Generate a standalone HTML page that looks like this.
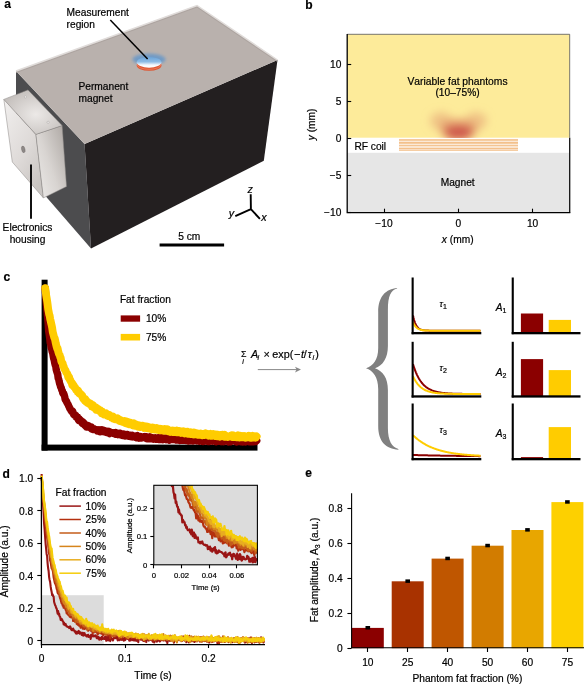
<!DOCTYPE html>
<html><head><meta charset="utf-8"><style>
html,body{margin:0;padding:0;background:#fff;}
svg{display:block;will-change:transform;}
text{font-kerning:none;font-feature-settings:"kern" 0;stroke:#000;stroke-width:0.2px;}
</style></head><body>
<svg width="584" height="685" viewBox="0 0 584 685" font-family="Liberation Sans, sans-serif" fill="#000">
<rect width="584" height="685" fill="#fff"/>
<text x="4.2" y="8.0" font-size="12" font-weight="bold">a</text>
<polygon points="16,71 84.6,144 91,248.4 16,162" fill="#4c4c4e"/>
<polygon points="84.6,144 277.5,60 263.8,160.7 91,248.4" fill="#231f20"/>
<polygon points="16,71 197,5.5 277.5,60 84.6,144" fill="#b9b1ad"/>
<polyline points="16,72.6 197,7.1 276.8,61.3" fill="none" stroke="#a9a19d" stroke-width="0.8"/>
<polyline points="16,71 197,5.5 277.5,60" fill="none" stroke="#e0dcda" stroke-width="1.5"/>
<defs>
<radialGradient id="htop" cx="0.55" cy="0.55" r="0.6"><stop offset="0" stop-color="#ece9e7"/><stop offset="1" stop-color="#c4bfbc"/></radialGradient>
<linearGradient id="hfront" x1="0" y1="0" x2="0.7" y2="1"><stop offset="0" stop-color="#f1efee"/><stop offset="0.6" stop-color="#dedad8"/><stop offset="1" stop-color="#c9c5c2"/></linearGradient>
<linearGradient id="hside" x1="0" y1="1" x2="1" y2="0.2"><stop offset="0" stop-color="#eeecea"/><stop offset="0.5" stop-color="#d8d4d1"/><stop offset="1" stop-color="#b2aca8"/></linearGradient>
<linearGradient id="disc" x1="0" y1="0" x2="0" y2="1"><stop offset="0" stop-color="#6aa4d9"/><stop offset="0.45" stop-color="#8dbbe4"/><stop offset="0.75" stop-color="#f4f8fc"/><stop offset="1" stop-color="#ffffff"/></linearGradient>
<filter id="blur2" x="-50%" y="-50%" width="200%" height="200%"><feGaussianBlur stdDeviation="1.6"/></filter>
</defs>
<polygon points="3.85,99.4 35.9,134.4 43.4,197.9 12.3,162" fill="url(#hfront)" stroke="#8a8684" stroke-width="0.5"/>
<polygon points="35.9,134.4 62.1,125.6 66.5,186.5 43.4,197.9" fill="url(#hside)" stroke="#8a8684" stroke-width="0.5"/>
<polygon points="3.85,99.4 28,89.9 62.1,125.6 35.9,134.4" fill="url(#htop)" stroke="#8a8684" stroke-width="0.5"/>
<ellipse cx="23.3" cy="149.4" rx="1.7" ry="3.4" transform="rotate(-12 23.3 149.4)" fill="#8d8886" stroke="#6d6866" stroke-width="0.4"/>
<circle cx="25.4" cy="96.9" r="1.1" fill="#f2f0ef" stroke="#9a9593" stroke-width="0.4"/>
<circle cx="48.1" cy="122.3" r="1.1" fill="#f2f0ef" stroke="#9a9593" stroke-width="0.4"/>
<ellipse cx="149" cy="59.3" rx="16.5" ry="5.8" fill="#5592cf" opacity="0.7" filter="url(#blur2)"/>
<ellipse cx="149.1" cy="65.4" rx="12.4" ry="5.4" fill="#de5430"/>
<ellipse cx="149.1" cy="64.3" rx="12.1" ry="5.0" fill="none" stroke="#f4a080" stroke-width="0.5"/>
<ellipse cx="149.1" cy="62.3" rx="12.4" ry="5.4" fill="url(#disc)"/>
<line x1="110.3" y1="20" x2="147.6" y2="59" stroke="#000" stroke-width="1.5"/>
<line x1="31" y1="164.6" x2="31" y2="218.8" stroke="#111" stroke-width="2"/>
<text x="66.6" y="15.9" font-size="10.2">Measurement</text>
<text x="66.6" y="27.9" font-size="10.2">region</text>
<text x="78.5" y="89.9" font-size="10.2">Permanent</text>
<text x="78.5" y="101.8" font-size="10.2">magnet</text>
<text x="2.6" y="230.8" font-size="10.2">Electronics</text>
<text x="27.5" y="243.3" font-size="10.2" text-anchor="middle">housing</text>
<rect x="159.6" y="243.5" width="64.5" height="3" fill="#000"/>
<text x="189.3" y="239.6" font-size="10.2" text-anchor="middle">5 cm</text>
<path d="M250.7,194.3 L250.9,209.2 L235.3,216.1 M250.9,209.2 L259.9,218.8" fill="none" stroke="#000" stroke-width="1.9"/>
<text x="247.6" y="192.8" font-size="10.8" font-style="italic">z</text>
<text x="228.8" y="217.4" font-size="10.8" font-style="italic">y</text>
<text x="261.2" y="221.4" font-size="10.8" font-style="italic">x</text>
<text x="305.2" y="9.3" font-size="12" font-weight="bold">b</text>
<rect x="347.2" y="34.3" width="222.50000000000006" height="103.39999999999999" fill="#fdeb9a"/>
<rect x="347.2" y="152.8" width="222.50000000000006" height="59.89999999999998" fill="#e6e6e6"/>
<defs><filter id="blobf" x="-50%" y="-50%" width="200%" height="200%"><feGaussianBlur stdDeviation="4"/></filter>
<clipPath id="yclip"><rect x="347" y="30" width="223" height="108"/></clipPath></defs>
<g clip-path="url(#yclip)"><g filter="url(#blobf)"><ellipse cx="441" cy="121" rx="11" ry="9" fill="#e9b27c" opacity="0.7"/><ellipse cx="476" cy="121" rx="11" ry="9" fill="#e9b27c" opacity="0.7"/><ellipse cx="458.5" cy="128.5" rx="19" ry="10" fill="#e29468" opacity="0.75"/><ellipse cx="458.5" cy="132.5" rx="14.5" ry="7.5" fill="#cf5a4c"/></g></g>
<rect x="399" y="138.9" width="119" height="12" fill="#fbe9d8"/>
<rect x="399" y="139.2" width="119" height="1.5" fill="#f3c08c"/>
<rect x="399" y="142" width="119" height="1.7" fill="#f3c08c"/>
<rect x="399" y="145.1" width="119" height="1.0" fill="#f3c08c"/>
<rect x="399" y="147.9" width="119" height="1.1" fill="#f3c08c"/>
<rect x="399" y="149.7" width="119" height="1.0" fill="#f3c08c"/>
<path d="M347.2,34.3 H569.7 V137.7" fill="none" stroke="#555" stroke-width="0.8"/>
<path d="M569.7,137.7 V212.7" fill="none" stroke="#111" stroke-width="1.3"/>
<path d="M347.2,33.9 V212.7 H570.3000000000001" fill="none" stroke="#000" stroke-width="1.3"/>
<line x1="347.2" y1="64.5" x2="351.2" y2="64.5" stroke="#000" stroke-width="1.1"/>
<text x="341.4" y="67.6" font-size="10.2" text-anchor="end">10</text>
<line x1="347.2" y1="101.5" x2="351.2" y2="101.5" stroke="#000" stroke-width="1.1"/>
<text x="341.4" y="104.6" font-size="10.2" text-anchor="end">5</text>
<line x1="347.2" y1="138.5" x2="351.2" y2="138.5" stroke="#000" stroke-width="1.1"/>
<text x="341.4" y="141.6" font-size="10.2" text-anchor="end">0</text>
<line x1="347.2" y1="175.5" x2="351.2" y2="175.5" stroke="#000" stroke-width="1.1"/>
<text x="341.4" y="178.6" font-size="10.2" text-anchor="end">−5</text>
<line x1="347.2" y1="212.5" x2="351.2" y2="212.5" stroke="#000" stroke-width="1.1"/>
<text x="341.4" y="215.6" font-size="10.2" text-anchor="end">−10</text>
<line x1="384.5" y1="212.7" x2="384.5" y2="208.7" stroke="#000" stroke-width="1.1"/>
<text x="384.0" y="226.6" font-size="10.2" text-anchor="middle">−10</text>
<line x1="458.5" y1="212.7" x2="458.5" y2="208.7" stroke="#000" stroke-width="1.1"/>
<text x="458.3" y="226.6" font-size="10.2" text-anchor="middle">0</text>
<line x1="532.5" y1="212.7" x2="532.5" y2="208.7" stroke="#000" stroke-width="1.1"/>
<text x="532.6" y="226.6" font-size="10.2" text-anchor="middle">10</text>
<text x="457.7" y="243.4" font-size="10.2" text-anchor="middle"><tspan font-style="italic">x</tspan> (mm)</text>
<text transform="translate(314.8,124.4) rotate(-90)" font-size="10.2" text-anchor="middle"><tspan font-style="italic">y</tspan> (mm)</text>
<text x="457.5" y="84.7" font-size="10.3" text-anchor="middle">Variable fat phantoms</text>
<text x="457.5" y="96.4" font-size="10.2" text-anchor="middle">(10–75%)</text>
<text x="354.4" y="149.6" font-size="10.2">RF coil</text>
<text x="457.7" y="185.5" font-size="10.2" text-anchor="middle">Magnet</text>
<text x="3.6" y="281.4" font-size="12" font-weight="bold">c</text>
<rect x="41.6" y="279.7" width="6" height="170.9" fill="#000"/>
<rect x="41.6" y="444.6" width="215.9" height="6" fill="#000"/>
<path d="M45.20,288.12 L45.70,294.79 L46.20,300.35 L46.70,306.74 L47.20,312.66 L47.70,317.69 L48.20,323.83 L48.70,331.29 L49.20,334.47 L49.70,337.87 L50.20,342.65 L50.70,344.29 L51.20,347.64 L51.70,349.19 L52.20,351.76 L52.70,352.81 L53.20,355.97 L53.70,358.61 L54.20,360.05 L54.70,362.79 L55.20,364.88 L55.70,365.78 L56.20,369.52 L56.70,371.32 L57.20,372.81 L57.70,374.30 L58.20,378.16 L58.70,379.25 L59.20,381.66 L59.70,383.81 L60.20,385.14 L60.70,387.19 L61.20,387.51 L61.70,389.80 L62.20,390.36 L62.70,392.75 L63.20,393.94 L63.70,393.56 L64.20,395.05 L64.70,396.70 L65.20,399.77 L65.70,399.86 L66.20,401.38 L66.70,401.71 L67.20,403.17 L67.70,403.86 L68.20,404.70 L68.70,406.09 L69.20,406.93 L69.70,408.45 L70.20,408.74 L70.70,410.05 L71.20,410.64 L71.70,411.66 L72.20,411.68 L72.70,411.27 L73.20,413.49 L73.70,414.40 L74.20,414.93 L74.70,414.84 L75.20,415.79 L75.70,415.30 L76.20,417.27 L76.70,417.28 L77.20,417.20 L77.70,417.26 L78.20,419.52 L78.70,420.32 L79.20,418.82 L79.70,420.84 L80.20,420.44 L80.70,420.32 L81.20,421.07 L81.70,422.56 L82.20,423.22 L82.70,421.82 L83.20,423.49 L83.70,422.64 L84.20,424.52 L84.70,424.05 L85.20,425.63 L85.70,426.20 L86.20,425.50 L86.70,426.91 L87.20,425.70 L87.70,425.48 L88.20,426.91 L88.70,425.91 L89.20,426.51 L89.70,427.18 L90.20,427.82 L90.70,427.00 L91.20,426.93 L91.70,428.92 L92.20,427.87 L92.70,429.46 L93.20,429.48 L93.70,428.50 L94.20,428.84 L94.70,429.13 L95.20,429.55 L95.70,429.59 L96.20,429.66 L96.70,429.93 L97.20,430.77 L97.70,429.96 L98.20,429.92 L98.70,430.69 L99.20,429.75 L99.70,430.02 L100.20,431.63 L100.70,430.74 L101.20,430.92 L101.70,429.85 L102.20,430.86 L102.70,431.33 L103.20,430.21 L103.70,431.62 L104.20,431.76 L104.70,430.61 L105.20,431.96 L105.70,431.70 L106.20,432.27 L106.70,431.65 L107.20,432.52 L107.70,432.68 L108.20,431.20 L108.70,431.37 L109.20,432.82 L109.70,433.54 L110.20,432.06 L110.70,432.59 L111.20,432.98 L111.70,432.46 L112.20,432.64 L112.70,432.61 L113.20,432.82 L113.70,433.40 L114.20,432.83 L114.70,433.08 L115.20,434.03 L115.70,432.47 L116.20,433.74 L116.70,434.19 L117.20,433.33 L117.70,433.22 L118.20,434.58 L118.70,433.42 L119.20,433.38 L119.70,434.01 L120.20,434.67 L120.70,433.44 L121.20,434.00 L121.70,434.11 L122.20,435.29 L122.70,434.50 L123.20,435.50 L123.70,434.06 L124.20,434.51 L124.70,435.28 L125.20,435.87 L125.70,435.00 L126.20,434.58 L126.70,434.43 L127.20,435.40 L127.70,434.73 L128.20,436.16 L128.70,436.31 L129.20,434.94 L129.70,435.22 L130.20,436.46 L130.70,436.17 L131.20,436.60 L131.70,435.66 L132.20,435.26 L132.70,435.69 L133.20,436.86 L133.70,435.78 L134.20,436.01 L134.70,436.23 L135.20,436.31 L135.70,436.35 L136.20,437.54 L136.70,435.92 L137.20,435.65 L137.70,437.78 L138.20,437.70 L138.70,438.00 L139.20,436.84 L139.70,438.03 L140.20,438.04 L140.70,436.55 L141.20,437.75 L141.70,438.01 L142.20,437.68 L142.70,437.42 L143.20,436.96 L143.70,437.13 L144.20,436.92 L144.70,436.62 L145.20,437.81 L145.70,437.20 L146.20,438.39 L146.70,436.75 L147.20,438.68 L147.70,438.26 L148.20,438.80 L148.70,438.78 L149.20,438.82 L149.70,438.15 L150.20,436.94 L150.70,438.59 L151.20,437.36 L151.70,437.67 L152.20,438.50 L152.70,438.23 L153.20,438.02 L153.70,439.21 L154.20,438.52 L154.70,437.95 L155.20,437.79 L155.70,439.16 L156.20,438.35 L156.70,439.05 L157.20,438.13 L157.70,437.82 L158.20,438.59 L158.70,439.24 L159.20,437.85 L159.70,439.25 L160.20,439.56 L160.70,439.34 L161.20,439.40 L161.70,437.64 L162.20,439.03 L162.70,439.58 L163.20,437.82 L163.70,438.33 L164.20,438.35 L164.70,438.95 L165.20,438.75 L165.70,438.88 L166.20,439.58 L166.70,437.90 L167.20,438.04 L167.70,438.23 L168.20,438.25 L168.70,438.15 L169.20,440.17 L169.70,439.93 L170.20,438.27 L170.70,439.21 L171.20,438.82 L171.70,438.84 L172.20,438.95 L172.70,439.62 L173.20,439.51 L173.70,439.04 L174.20,438.69 L174.70,439.02 L175.20,438.59 L175.70,439.56 L176.20,439.94 L176.70,439.22 L177.20,438.58 L177.70,438.82 L178.20,439.27 L178.70,439.80 L179.20,440.21 L179.70,439.35 L180.20,440.30 L180.70,439.92 L181.20,439.52 L181.70,439.41 L182.20,439.71 L182.70,440.18 L183.20,439.58 L183.70,440.20 L184.20,439.71 L184.70,439.25 L185.20,439.91 L185.70,440.28 L186.20,438.93 L186.70,439.72 L187.20,439.74 L187.70,440.76 L188.20,440.90 L188.70,439.68 L189.20,440.85 L189.70,440.63 L190.20,439.48 L190.70,439.95 L191.20,439.21 L191.70,440.75 L192.20,440.43 L192.70,440.94 L193.20,440.75 L193.70,440.49 L194.20,440.65 L194.70,440.29 L195.20,439.29 L195.70,440.37 L196.20,439.10 L196.70,439.42 L197.20,440.82 L197.70,439.23 L198.20,439.35 L198.70,439.38 L199.20,441.11 L199.70,439.58 L200.20,439.25 L200.70,441.06 L201.20,439.49 L201.70,441.09 L202.20,440.73 L202.70,441.10 L203.20,441.36 L203.70,440.55 L204.20,441.05 L204.70,439.38 L205.20,441.00 L205.70,440.45 L206.20,440.90 L206.70,439.58 L207.20,441.00 L207.70,441.42 L208.20,439.50 L208.70,440.09 L209.20,440.63 L209.70,441.22 L210.20,439.94 L210.70,439.81 L211.20,439.97 L211.70,440.78 L212.20,441.09 L212.70,440.31 L213.20,440.26 L213.70,440.33 L214.20,440.24 L214.70,440.40 L215.20,439.67 L215.70,440.59 L216.20,441.64 L216.70,440.42 L217.20,441.16 L217.70,439.88 L218.20,441.05 L218.70,441.20 L219.20,441.03 L219.70,440.69 L220.20,440.63 L220.70,440.98 L221.20,441.55 L221.70,439.91 L222.20,439.80 L222.70,441.25 L223.20,441.62 L223.70,440.75 L224.20,440.60 L224.70,441.21 L225.20,440.05 L225.70,440.23 L226.20,440.09 L226.70,440.95 L227.20,440.36 L227.70,440.18 L228.20,441.20 L228.70,441.78 L229.20,440.34 L229.70,441.25 L230.20,440.61 L230.70,441.59 L231.20,441.00 L231.70,440.31 L232.20,440.21 L232.70,439.79 L233.20,440.80 L233.70,440.59 L234.20,440.13 L234.70,440.55 L235.20,440.47 L235.70,441.47 L236.20,440.09 L236.70,441.96 L237.20,440.84 L237.70,441.11 L238.20,440.83 L238.70,441.64 L239.20,441.61 L239.70,441.04 L240.20,440.87 L240.70,441.41 L241.20,441.71 L241.70,440.71 L242.20,441.45 L242.70,441.95 L243.20,440.87 L243.70,440.35 L244.20,440.36 L244.70,441.43 L245.20,441.34 L245.70,441.97 L246.20,441.74 L246.70,440.40 L247.20,440.29 L247.70,440.44 L248.20,440.29 L248.70,441.43 L249.20,441.77 L249.70,441.86 L250.20,440.44 L250.70,441.79 L251.20,440.58 L251.70,440.82 L252.20,441.50 L252.70,440.08 L253.20,440.10 L253.70,441.73 L254.20,440.54 L254.70,440.68 L255.20,441.17 L255.70,441.39 L256.20,439.91 L256.70,440.64" fill="none" stroke="#8b0000" stroke-width="7.4" stroke-linecap="round" stroke-linejoin="round"/>
<path d="M45.20,288.12 L45.70,291.34 L46.20,295.42 L46.70,298.24 L47.20,301.28 L47.70,305.12 L48.20,309.22 L48.70,311.77 L49.20,314.42 L49.70,315.88 L50.20,319.15 L50.70,321.09 L51.20,323.29 L51.70,325.51 L52.20,328.02 L52.70,331.79 L53.20,333.69 L53.70,335.67 L54.20,337.63 L54.70,338.23 L55.20,340.37 L55.70,342.92 L56.20,344.95 L56.70,346.98 L57.20,348.76 L57.70,348.68 L58.20,351.45 L58.70,353.18 L59.20,354.35 L59.70,355.12 L60.20,357.21 L60.70,357.75 L61.20,360.96 L61.70,362.11 L62.20,362.70 L62.70,363.42 L63.20,366.01 L63.70,366.50 L64.20,368.38 L64.70,369.49 L65.20,369.91 L65.70,370.84 L66.20,372.37 L66.70,373.09 L67.20,373.57 L67.70,374.94 L68.20,377.08 L68.70,376.39 L69.20,377.38 L69.70,379.61 L70.20,379.78 L70.70,381.24 L71.20,381.98 L71.70,382.55 L72.20,384.82 L72.70,383.86 L73.20,385.11 L73.70,385.40 L74.20,387.06 L74.70,386.96 L75.20,387.80 L75.70,389.30 L76.20,388.99 L76.70,390.12 L77.20,391.47 L77.70,390.29 L78.20,390.78 L78.70,391.73 L79.20,393.48 L79.70,393.73 L80.20,393.48 L80.70,394.27 L81.20,394.53 L81.70,395.77 L82.20,395.48 L82.70,397.54 L83.20,398.59 L83.70,399.32 L84.20,399.41 L84.70,400.43 L85.20,398.85 L85.70,399.89 L86.20,401.82 L86.70,401.84 L87.20,401.47 L87.70,403.07 L88.20,402.78 L88.70,403.64 L89.20,402.89 L89.70,403.08 L90.20,404.04 L90.70,403.76 L91.20,404.69 L91.70,406.35 L92.20,405.35 L92.70,405.02 L93.20,405.47 L93.70,406.11 L94.20,407.83 L94.70,407.26 L95.20,407.45 L95.70,407.38 L96.20,409.67 L96.70,408.78 L97.20,408.64 L97.70,408.64 L98.20,408.95 L98.70,409.52 L99.20,410.96 L99.70,410.11 L100.20,410.17 L100.70,411.46 L101.20,411.23 L101.70,413.16 L102.20,411.52 L102.70,412.70 L103.20,413.51 L103.70,412.98 L104.20,414.52 L104.70,413.66 L105.20,413.40 L105.70,414.03 L106.20,413.45 L106.70,414.54 L107.20,414.40 L107.70,416.04 L108.20,416.14 L108.70,415.64 L109.20,414.83 L109.70,415.53 L110.20,415.72 L110.70,415.85 L111.20,416.11 L111.70,417.72 L112.20,416.32 L112.70,416.33 L113.20,418.46 L113.70,417.86 L114.20,419.00 L114.70,417.90 L115.20,419.20 L115.70,418.85 L116.20,419.35 L116.70,419.44 L117.20,419.08 L117.70,418.39 L118.20,418.84 L118.70,420.48 L119.20,420.72 L119.70,420.96 L120.20,419.85 L120.70,420.74 L121.20,421.24 L121.70,421.07 L122.20,421.63 L122.70,421.17 L123.20,421.62 L123.70,421.87 L124.20,421.12 L124.70,422.73 L125.20,422.97 L125.70,421.20 L126.20,423.33 L126.70,423.48 L127.20,422.99 L127.70,421.78 L128.20,423.82 L128.70,422.28 L129.20,424.28 L129.70,423.77 L130.20,422.59 L130.70,422.97 L131.20,424.15 L131.70,424.15 L132.20,424.69 L132.70,425.23 L133.20,423.81 L133.70,423.47 L134.20,425.63 L134.70,423.77 L135.20,425.80 L135.70,424.26 L136.20,425.92 L136.70,425.98 L137.20,426.32 L137.70,425.72 L138.20,426.57 L138.70,425.20 L139.20,426.35 L139.70,425.71 L140.20,427.06 L140.70,426.91 L141.20,426.36 L141.70,426.59 L142.20,425.59 L142.70,425.71 L143.20,427.05 L143.70,426.91 L144.20,427.84 L144.70,427.37 L145.20,426.43 L145.70,427.01 L146.20,427.99 L146.70,427.54 L147.20,426.49 L147.70,428.40 L148.20,428.45 L148.70,426.90 L149.20,427.98 L149.70,427.70 L150.20,428.66 L150.70,427.68 L151.20,427.58 L151.70,428.21 L152.20,429.33 L152.70,427.49 L153.20,427.60 L153.70,428.78 L154.20,429.43 L154.70,428.68 L155.20,428.57 L155.70,429.58 L156.20,429.47 L156.70,427.97 L157.20,429.83 L157.70,428.39 L158.20,428.69 L158.70,429.93 L159.20,429.09 L159.70,429.98 L160.20,428.66 L160.70,430.28 L161.20,428.82 L161.70,428.82 L162.20,429.65 L162.70,429.37 L163.20,429.88 L163.70,430.74 L164.20,430.38 L164.70,428.90 L165.20,429.64 L165.70,430.21 L166.20,430.15 L166.70,430.72 L167.20,430.27 L167.70,429.44 L168.20,429.87 L168.70,431.26 L169.20,430.24 L169.70,431.21 L170.20,431.75 L170.70,431.02 L171.20,431.20 L171.70,431.11 L172.20,430.52 L172.70,431.90 L173.20,430.98 L173.70,432.02 L174.20,430.75 L174.70,432.04 L175.20,431.93 L175.70,431.60 L176.20,431.29 L176.70,430.68 L177.20,432.13 L177.70,431.29 L178.20,432.01 L178.70,430.90 L179.20,430.85 L179.70,431.04 L180.20,432.56 L180.70,431.23 L181.20,432.88 L181.70,431.77 L182.20,432.28 L182.70,431.84 L183.20,432.49 L183.70,431.39 L184.20,432.12 L184.70,433.35 L185.20,431.74 L185.70,432.84 L186.20,432.17 L186.70,432.17 L187.20,431.61 L187.70,431.66 L188.20,433.76 L188.70,433.55 L189.20,433.54 L189.70,433.60 L190.20,433.98 L190.70,432.28 L191.20,433.27 L191.70,433.13 L192.20,433.35 L192.70,434.20 L193.20,433.86 L193.70,434.37 L194.20,432.55 L194.70,433.77 L195.20,433.87 L195.70,434.08 L196.20,433.85 L196.70,434.36 L197.20,433.25 L197.70,434.67 L198.20,433.57 L198.70,434.04 L199.20,434.75 L199.70,434.37 L200.20,433.55 L200.70,433.42 L201.20,433.68 L201.70,434.38 L202.20,435.24 L202.70,435.07 L203.20,434.02 L203.70,434.06 L204.20,435.02 L204.70,433.89 L205.20,434.22 L205.70,433.38 L206.20,433.80 L206.70,434.63 L207.20,435.00 L207.70,434.87 L208.20,434.36 L208.70,435.70 L209.20,435.01 L209.70,434.03 L210.20,433.87 L210.70,435.90 L211.20,435.97 L211.70,435.86 L212.20,435.21 L212.70,434.60 L213.20,434.15 L213.70,434.56 L214.20,434.52 L214.70,436.11 L215.20,436.06 L215.70,435.85 L216.20,434.50 L216.70,434.73 L217.20,434.90 L217.70,436.36 L218.20,434.67 L218.70,436.08 L219.20,435.87 L219.70,435.61 L220.20,436.55 L220.70,435.05 L221.20,435.66 L221.70,434.88 L222.20,434.78 L222.70,434.67 L223.20,435.33 L223.70,434.93 L224.20,434.82 L224.70,436.90 L225.20,435.38 L225.70,436.73 L226.20,436.35 L226.70,436.44 L227.20,436.30 L227.70,436.98 L228.20,436.84 L228.70,436.52 L229.20,436.19 L229.70,436.51 L230.20,436.60 L230.70,436.25 L231.20,436.16 L231.70,435.42 L232.20,436.96 L232.70,436.19 L233.20,435.30 L233.70,435.54 L234.20,437.12 L234.70,435.78 L235.20,436.10 L235.70,436.76 L236.20,437.17 L236.70,436.02 L237.20,436.16 L237.70,436.26 L238.20,435.41 L238.70,437.30 L239.20,435.43 L239.70,437.51 L240.20,435.75 L240.70,435.78 L241.20,437.32 L241.70,437.27 L242.20,435.99 L242.70,436.71 L243.20,436.55 L243.70,437.10 L244.20,435.94 L244.70,437.36 L245.20,437.75 L245.70,437.12 L246.20,437.60 L246.70,437.65 L247.20,436.43 L247.70,437.47 L248.20,437.45 L248.70,436.92 L249.20,435.87 L249.70,437.00 L250.20,437.65 L250.70,436.33 L251.20,437.08 L251.70,437.64 L252.20,436.99 L252.70,435.76 L253.20,437.07 L253.70,436.25 L254.20,437.58 L254.70,437.15 L255.20,436.37 L255.70,437.67 L256.20,437.07 L256.70,436.45" fill="none" stroke="#ffcc00" stroke-width="7.8" stroke-linecap="round" stroke-linejoin="round"/>
<text x="119.9" y="303.2" font-size="10.2">Fat fraction</text>
<rect x="120.7" y="315.4" width="19.4" height="6.3" fill="#8b0000"/>
<text x="145.9" y="322" font-size="10.2">10%</text>
<rect x="120.7" y="333.9" width="19.4" height="6.6" fill="#ffcc00"/>
<text x="145.9" y="340.5" font-size="10.2">75%</text>
<text x="240.9" y="357.2" font-size="8.8">Σ</text>
<text x="242.2" y="364.4" font-size="7" font-style="italic">i</text>
<text font-size="10.8" y="357.6"><tspan x="251" font-style="italic">A</tspan><tspan x="257.4" dy="2.4" font-size="7" font-style="italic">i</tspan><tspan x="263.4" dy="-2.4">×</tspan><tspan x="272.3">exp(</tspan><tspan x="294.1">−</tspan><tspan x="300.9" font-style="italic">t</tspan><tspan x="303.8">/</tspan><tspan x="307.7" font-style="italic">τ</tspan><tspan x="312.5" dy="2.4" font-size="7" font-style="italic">i</tspan><tspan x="315.2" dy="-2.4">)</tspan></text>
<line x1="257.8" y1="369.6" x2="298" y2="369.6" stroke="#888" stroke-width="1"/>
<path d="M301,369.6 L295,366.8 L296.5,369.6 L295,372.4 Z" fill="#888"/>
<path d="M397.1,287.9 C386,289 378.2,296 378.2,312 L378.2,348 C378.2,360 373,366 366,368.2 C373,370.5 378.2,377 378.2,389 L378.2,426 C378.2,442 386,448.5 398.4,449.7 L398.4,449 C392,447 387.9,441 387.9,428 L387.9,390 C387.9,378 383,371 375,368.2 C383,365.5 387.9,358 387.9,346 L387.9,310 C387.9,296 391,290 397.1,288.6 Z" fill="#808080"/>
<path d="M413.00,315.40 L413.50,317.75 L414.00,319.74 L414.50,321.42 L415.00,322.84 L415.50,324.05 L416.00,325.07 L416.50,325.94 L417.00,326.67 L417.50,327.29 L418.00,327.81 L418.50,328.25 L419.00,328.63 L419.50,328.95 L420.00,329.22 L420.50,329.44 L421.00,329.64 L421.50,329.80 L422.00,329.94 L422.50,330.06 L423.00,330.15 L423.50,330.24 L424.00,330.31 L424.50,330.37 L425.00,330.42 L425.50,330.46 L426.00,330.50 L426.50,330.53 L427.00,330.56 L427.50,330.58 L428.00,330.60 L428.50,330.61 L429.00,330.63 L429.50,330.64 L430.00,330.65 L430.50,330.66 L431.00,330.66 L431.50,330.67 L432.00,330.67 L432.50,330.68 L433.00,330.68 L433.50,330.68 L434.00,330.69 L434.50,330.69 L435.00,330.69 L435.50,330.69 L436.00,330.69 L436.50,330.69 L437.00,330.69 L437.50,330.70 L438.00,330.70 L438.50,330.70 L439.00,330.70 L439.50,330.70 L440.00,330.70 L440.50,330.70 L441.00,330.70 L441.50,330.70 L442.00,330.70 L442.50,330.70 L443.00,330.70 L443.50,330.70 L444.00,330.70 L444.50,330.70 L445.00,330.70 L445.50,330.70 L446.00,330.70 L446.50,330.70 L447.00,330.70 L447.50,330.70 L448.00,330.70 L448.50,330.70 L449.00,330.70 L449.50,330.70 L450.00,330.70 L450.50,330.70 L451.00,330.70 L451.50,330.70 L452.00,330.70 L452.50,330.70 L453.00,330.70 L453.50,330.70 L454.00,330.70 L454.50,330.70 L455.00,330.70 L455.50,330.70 L456.00,330.70 L456.50,330.70 L457.00,330.70 L457.50,330.70 L458.00,330.70 L458.50,330.70 L459.00,330.70 L459.50,330.70 L460.00,330.70 L460.50,330.70 L461.00,330.70 L461.50,330.70 L462.00,330.70 L462.50,330.70 L463.00,330.70 L463.50,330.70 L464.00,330.70 L464.50,330.70 L465.00,330.70 L465.50,330.70 L466.00,330.70 L466.50,330.70 L467.00,330.70 L467.50,330.70 L468.00,330.70 L468.50,330.70 L469.00,330.70 L469.50,330.70 L470.00,330.70 L470.50,330.70 L471.00,330.70 L471.50,330.70 L472.00,330.70 L472.50,330.70 L473.00,330.70 L473.50,330.70 L474.00,330.70 L474.50,330.70 L475.00,330.70 L475.50,330.70 L476.00,330.70 L476.50,330.70 L477.00,330.70 L477.50,330.70 L478.00,330.70 L478.50,330.70 L479.00,330.70 L479.50,330.70 L480.00,330.70 L480.50,330.70" fill="none" stroke="#8b0000" stroke-width="2"/>
<path d="M413.00,322.20 L413.50,323.33 L414.00,324.31 L414.50,325.16 L415.00,325.90 L415.50,326.54 L416.00,327.09 L416.50,327.57 L417.00,327.99 L417.50,328.35 L418.00,328.66 L418.50,328.93 L419.00,329.17 L419.50,329.37 L420.00,329.55 L420.50,329.70 L421.00,329.84 L421.50,329.95 L422.00,330.05 L422.50,330.14 L423.00,330.21 L423.50,330.28 L424.00,330.33 L424.50,330.38 L425.00,330.42 L425.50,330.46 L426.00,330.49 L426.50,330.52 L427.00,330.54 L427.50,330.57 L428.00,330.58 L428.50,330.60 L429.00,330.61 L429.50,330.62 L430.00,330.63 L430.50,330.64 L431.00,330.65 L431.50,330.66 L432.00,330.66 L432.50,330.67 L433.00,330.67 L433.50,330.68 L434.00,330.68 L434.50,330.68 L435.00,330.68 L435.50,330.69 L436.00,330.69 L436.50,330.69 L437.00,330.69 L437.50,330.69 L438.00,330.69 L438.50,330.69 L439.00,330.69 L439.50,330.70 L440.00,330.70 L440.50,330.70 L441.00,330.70 L441.50,330.70 L442.00,330.70 L442.50,330.70 L443.00,330.70 L443.50,330.70 L444.00,330.70 L444.50,330.70 L445.00,330.70 L445.50,330.70 L446.00,330.70 L446.50,330.70 L447.00,330.70 L447.50,330.70 L448.00,330.70 L448.50,330.70 L449.00,330.70 L449.50,330.70 L450.00,330.70 L450.50,330.70 L451.00,330.70 L451.50,330.70 L452.00,330.70 L452.50,330.70 L453.00,330.70 L453.50,330.70 L454.00,330.70 L454.50,330.70 L455.00,330.70 L455.50,330.70 L456.00,330.70 L456.50,330.70 L457.00,330.70 L457.50,330.70 L458.00,330.70 L458.50,330.70 L459.00,330.70 L459.50,330.70 L460.00,330.70 L460.50,330.70 L461.00,330.70 L461.50,330.70 L462.00,330.70 L462.50,330.70 L463.00,330.70 L463.50,330.70 L464.00,330.70 L464.50,330.70 L465.00,330.70 L465.50,330.70 L466.00,330.70 L466.50,330.70 L467.00,330.70 L467.50,330.70 L468.00,330.70 L468.50,330.70 L469.00,330.70 L469.50,330.70 L470.00,330.70 L470.50,330.70 L471.00,330.70 L471.50,330.70 L472.00,330.70 L472.50,330.70 L473.00,330.70 L473.50,330.70 L474.00,330.70 L474.50,330.70 L475.00,330.70 L475.50,330.70 L476.00,330.70 L476.50,330.70 L477.00,330.70 L477.50,330.70 L478.00,330.70 L478.50,330.70 L479.00,330.70 L479.50,330.70 L480.00,330.70 L480.50,330.70" fill="none" stroke="#ffcc00" stroke-width="2"/>
<rect x="411.6" y="277.5" width="2.1" height="56.69999999999999" fill="#000"/>
<rect x="411.6" y="332.0" width="69.69999999999999" height="2.3" fill="#000"/>
<path d="M413.00,364.10 L413.50,365.72 L414.00,367.24 L414.50,368.69 L415.00,370.06 L415.50,371.35 L416.00,372.58 L416.50,373.73 L417.00,374.83 L417.50,375.86 L418.00,376.84 L418.50,377.77 L419.00,378.65 L419.50,379.48 L420.00,380.26 L420.50,381.01 L421.00,381.71 L421.50,382.37 L422.00,383.00 L422.50,383.59 L423.00,384.16 L423.50,384.69 L424.00,385.19 L424.50,385.67 L425.00,386.12 L425.50,386.54 L426.00,386.95 L426.50,387.33 L427.00,387.69 L427.50,388.03 L428.00,388.35 L428.50,388.66 L429.00,388.95 L429.50,389.22 L430.00,389.48 L430.50,389.72 L431.00,389.95 L431.50,390.17 L432.00,390.38 L432.50,390.57 L433.00,390.76 L433.50,390.93 L434.00,391.10 L434.50,391.26 L435.00,391.41 L435.50,391.55 L436.00,391.68 L436.50,391.80 L437.00,391.92 L437.50,392.03 L438.00,392.14 L438.50,392.24 L439.00,392.34 L439.50,392.43 L440.00,392.51 L440.50,392.59 L441.00,392.67 L441.50,392.74 L442.00,392.81 L442.50,392.87 L443.00,392.93 L443.50,392.99 L444.00,393.05 L444.50,393.10 L445.00,393.15 L445.50,393.19 L446.00,393.24 L446.50,393.28 L447.00,393.32 L447.50,393.35 L448.00,393.39 L448.50,393.42 L449.00,393.45 L449.50,393.48 L450.00,393.51 L450.50,393.54 L451.00,393.56 L451.50,393.59 L452.00,393.61 L452.50,393.63 L453.00,393.65 L453.50,393.67 L454.00,393.69 L454.50,393.70 L455.00,393.72 L455.50,393.73 L456.00,393.75 L456.50,393.76 L457.00,393.77 L457.50,393.79 L458.00,393.80 L458.50,393.81 L459.00,393.82 L459.50,393.83 L460.00,393.84 L460.50,393.85 L461.00,393.86 L461.50,393.86 L462.00,393.87 L462.50,393.88 L463.00,393.88 L463.50,393.89 L464.00,393.90 L464.50,393.90 L465.00,393.91 L465.50,393.91 L466.00,393.92 L466.50,393.92 L467.00,393.93 L467.50,393.93 L468.00,393.93 L468.50,393.94 L469.00,393.94 L469.50,393.94 L470.00,393.95 L470.50,393.95 L471.00,393.95 L471.50,393.96 L472.00,393.96 L472.50,393.96 L473.00,393.96 L473.50,393.96 L474.00,393.97 L474.50,393.97 L475.00,393.97 L475.50,393.97 L476.00,393.97 L476.50,393.97 L477.00,393.98 L477.50,393.98 L478.00,393.98 L478.50,393.98 L479.00,393.98 L479.50,393.98 L480.00,393.98 L480.50,393.98" fill="none" stroke="#8b0000" stroke-width="2"/>
<path d="M413.00,376.10 L413.50,377.18 L414.00,378.20 L414.50,379.16 L415.00,380.06 L415.50,380.90 L416.00,381.70 L416.50,382.44 L417.00,383.14 L417.50,383.80 L418.00,384.42 L418.50,385.00 L419.00,385.54 L419.50,386.06 L420.00,386.54 L420.50,386.99 L421.00,387.41 L421.50,387.81 L422.00,388.19 L422.50,388.54 L423.00,388.87 L423.50,389.18 L424.00,389.47 L424.50,389.75 L425.00,390.01 L425.50,390.25 L426.00,390.48 L426.50,390.69 L427.00,390.89 L427.50,391.08 L428.00,391.25 L428.50,391.42 L429.00,391.58 L429.50,391.72 L430.00,391.86 L430.50,391.99 L431.00,392.11 L431.50,392.23 L432.00,392.34 L432.50,392.44 L433.00,392.53 L433.50,392.62 L434.00,392.70 L434.50,392.78 L435.00,392.86 L435.50,392.93 L436.00,392.99 L436.50,393.05 L437.00,393.11 L437.50,393.16 L438.00,393.21 L438.50,393.26 L439.00,393.31 L439.50,393.35 L440.00,393.39 L440.50,393.42 L441.00,393.46 L441.50,393.49 L442.00,393.52 L442.50,393.55 L443.00,393.58 L443.50,393.60 L444.00,393.63 L444.50,393.65 L445.00,393.67 L445.50,393.69 L446.00,393.71 L446.50,393.73 L447.00,393.74 L447.50,393.76 L448.00,393.77 L448.50,393.79 L449.00,393.80 L449.50,393.81 L450.00,393.82 L450.50,393.84 L451.00,393.85 L451.50,393.85 L452.00,393.86 L452.50,393.87 L453.00,393.88 L453.50,393.89 L454.00,393.89 L454.50,393.90 L455.00,393.91 L455.50,393.91 L456.00,393.92 L456.50,393.92 L457.00,393.93 L457.50,393.93 L458.00,393.94 L458.50,393.94 L459.00,393.94 L459.50,393.95 L460.00,393.95 L460.50,393.95 L461.00,393.96 L461.50,393.96 L462.00,393.96 L462.50,393.96 L463.00,393.97 L463.50,393.97 L464.00,393.97 L464.50,393.97 L465.00,393.97 L465.50,393.97 L466.00,393.98 L466.50,393.98 L467.00,393.98 L467.50,393.98 L468.00,393.98 L468.50,393.98 L469.00,393.98 L469.50,393.98 L470.00,393.99 L470.50,393.99 L471.00,393.99 L471.50,393.99 L472.00,393.99 L472.50,393.99 L473.00,393.99 L473.50,393.99 L474.00,393.99 L474.50,393.99 L475.00,393.99 L475.50,393.99 L476.00,393.99 L476.50,393.99 L477.00,393.99 L477.50,393.99 L478.00,393.99 L478.50,394.00 L479.00,394.00 L479.50,394.00 L480.00,394.00 L480.50,394.00" fill="none" stroke="#ffcc00" stroke-width="2"/>
<rect x="411.6" y="341.8" width="2.1" height="55.69999999999999" fill="#000"/>
<rect x="411.6" y="395.3" width="69.69999999999999" height="2.3" fill="#000"/>
<path d="M413.00,455.00 L413.50,455.01 L414.00,455.03 L414.50,455.04 L415.00,455.06 L415.50,455.07 L416.00,455.08 L416.50,455.10 L417.00,455.11 L417.50,455.12 L418.00,455.14 L418.50,455.15 L419.00,455.16 L419.50,455.17 L420.00,455.19 L420.50,455.20 L421.00,455.21 L421.50,455.22 L422.00,455.24 L422.50,455.25 L423.00,455.26 L423.50,455.27 L424.00,455.28 L424.50,455.30 L425.00,455.31 L425.50,455.32 L426.00,455.33 L426.50,455.34 L427.00,455.35 L427.50,455.36 L428.00,455.38 L428.50,455.39 L429.00,455.40 L429.50,455.41 L430.00,455.42 L430.50,455.43 L431.00,455.44 L431.50,455.45 L432.00,455.46 L432.50,455.47 L433.00,455.48 L433.50,455.49 L434.00,455.50 L434.50,455.51 L435.00,455.52 L435.50,455.53 L436.00,455.54 L436.50,455.55 L437.00,455.56 L437.50,455.57 L438.00,455.58 L438.50,455.59 L439.00,455.60 L439.50,455.61 L440.00,455.62 L440.50,455.63 L441.00,455.63 L441.50,455.64 L442.00,455.65 L442.50,455.66 L443.00,455.67 L443.50,455.68 L444.00,455.69 L444.50,455.69 L445.00,455.70 L445.50,455.71 L446.00,455.72 L446.50,455.73 L447.00,455.74 L447.50,455.74 L448.00,455.75 L448.50,455.76 L449.00,455.77 L449.50,455.77 L450.00,455.78 L450.50,455.79 L451.00,455.80 L451.50,455.81 L452.00,455.81 L452.50,455.82 L453.00,455.83 L453.50,455.83 L454.00,455.84 L454.50,455.85 L455.00,455.86 L455.50,455.86 L456.00,455.87 L456.50,455.88 L457.00,455.88 L457.50,455.89 L458.00,455.90 L458.50,455.90 L459.00,455.91 L459.50,455.92 L460.00,455.92 L460.50,455.93 L461.00,455.94 L461.50,455.94 L462.00,455.95 L462.50,455.96 L463.00,455.96 L463.50,455.97 L464.00,455.97 L464.50,455.98 L465.00,455.99 L465.50,455.99 L466.00,456.00 L466.50,456.00 L467.00,456.01 L467.50,456.01 L468.00,456.02 L468.50,456.03 L469.00,456.03 L469.50,456.04 L470.00,456.04 L470.50,456.05 L471.00,456.05 L471.50,456.06 L472.00,456.06 L472.50,456.07 L473.00,456.07 L473.50,456.08 L474.00,456.08 L474.50,456.09 L475.00,456.10 L475.50,456.10 L476.00,456.11 L476.50,456.11 L477.00,456.11 L477.50,456.12 L478.00,456.12 L478.50,456.13 L479.00,456.13 L479.50,456.14 L480.00,456.14 L480.50,456.15" fill="none" stroke="#8b0000" stroke-width="2"/>
<path d="M413.00,435.20 L413.50,435.68 L414.00,436.16 L414.50,436.62 L415.00,437.07 L415.50,437.51 L416.00,437.94 L416.50,438.36 L417.00,438.77 L417.50,439.18 L418.00,439.57 L418.50,439.96 L419.00,440.33 L419.50,440.70 L420.00,441.06 L420.50,441.41 L421.00,441.75 L421.50,442.09 L422.00,442.42 L422.50,442.74 L423.00,443.05 L423.50,443.36 L424.00,443.66 L424.50,443.95 L425.00,444.24 L425.50,444.52 L426.00,444.79 L426.50,445.06 L427.00,445.32 L427.50,445.58 L428.00,445.83 L428.50,446.07 L429.00,446.31 L429.50,446.54 L430.00,446.77 L430.50,447.00 L431.00,447.21 L431.50,447.43 L432.00,447.64 L432.50,447.84 L433.00,448.04 L433.50,448.23 L434.00,448.42 L434.50,448.61 L435.00,448.79 L435.50,448.97 L436.00,449.14 L436.50,449.31 L437.00,449.48 L437.50,449.64 L438.00,449.80 L438.50,449.95 L439.00,450.11 L439.50,450.25 L440.00,450.40 L440.50,450.54 L441.00,450.68 L441.50,450.81 L442.00,450.95 L442.50,451.08 L443.00,451.20 L443.50,451.33 L444.00,451.45 L444.50,451.56 L445.00,451.68 L445.50,451.79 L446.00,451.90 L446.50,452.01 L447.00,452.12 L447.50,452.22 L448.00,452.32 L448.50,452.42 L449.00,452.51 L449.50,452.61 L450.00,452.70 L450.50,452.79 L451.00,452.88 L451.50,452.96 L452.00,453.05 L452.50,453.13 L453.00,453.21 L453.50,453.29 L454.00,453.37 L454.50,453.44 L455.00,453.51 L455.50,453.58 L456.00,453.65 L456.50,453.72 L457.00,453.79 L457.50,453.86 L458.00,453.92 L458.50,453.98 L459.00,454.04 L459.50,454.10 L460.00,454.16 L460.50,454.22 L461.00,454.27 L461.50,454.33 L462.00,454.38 L462.50,454.43 L463.00,454.48 L463.50,454.53 L464.00,454.58 L464.50,454.63 L465.00,454.68 L465.50,454.72 L466.00,454.77 L466.50,454.81 L467.00,454.85 L467.50,454.89 L468.00,454.94 L468.50,454.97 L469.00,455.01 L469.50,455.05 L470.00,455.09 L470.50,455.12 L471.00,455.16 L471.50,455.19 L472.00,455.23 L472.50,455.26 L473.00,455.29 L473.50,455.33 L474.00,455.36 L474.50,455.39 L475.00,455.42 L475.50,455.44 L476.00,455.47 L476.50,455.50 L477.00,455.53 L477.50,455.55 L478.00,455.58 L478.50,455.60 L479.00,455.63 L479.50,455.65 L480.00,455.68 L480.50,455.70" fill="none" stroke="#ffcc00" stroke-width="2"/>
<rect x="411.6" y="403.5" width="2.1" height="56.69999999999999" fill="#000"/>
<rect x="411.6" y="458.0" width="69.69999999999999" height="2.3" fill="#000"/>
<text x="439.6" y="306.8" font-size="9" font-style="italic">τ<tspan font-size="7" font-style="normal" dy="2.2">1</tspan></text>
<text x="439.6" y="371.2" font-size="9" font-style="italic">τ<tspan font-size="7" font-style="normal" dy="2.2">2</tspan></text>
<text x="439.6" y="432.6" font-size="9" font-style="italic">τ<tspan font-size="7" font-style="normal" dy="2.2">3</tspan></text>
<rect x="511.7" y="277.5" width="2.1" height="56.69999999999999" fill="#000"/>
<rect x="520.9" y="313.5" width="22.2" height="19.69999999999999" fill="#8b0000"/>
<rect x="548.7" y="319.9" width="22.3" height="13.300000000000011" fill="#ffcc00"/>
<rect x="511.7" y="332.0" width="68.80000000000001" height="2.3" fill="#000"/>
<rect x="511.7" y="341.8" width="2.1" height="55.69999999999999" fill="#000"/>
<rect x="520.9" y="359.1" width="22.2" height="37.39999999999998" fill="#8b0000"/>
<rect x="548.7" y="370.1" width="22.3" height="26.399999999999977" fill="#ffcc00"/>
<rect x="511.7" y="395.3" width="68.80000000000001" height="2.3" fill="#000"/>
<rect x="511.7" y="403.5" width="2.1" height="56.69999999999999" fill="#000"/>
<rect x="520.9" y="457.1" width="22.2" height="2.099999999999966" fill="#8b0000"/>
<rect x="548.7" y="427.1" width="22.3" height="32.099999999999966" fill="#ffcc00"/>
<rect x="511.7" y="458.0" width="68.80000000000001" height="2.3" fill="#000"/>
<text x="495.8" y="311" font-size="10.2" font-style="italic">A<tspan font-size="7" font-style="normal" dy="2.4">1</tspan></text>
<text x="495.8" y="375.8" font-size="10.2" font-style="italic">A<tspan font-size="7" font-style="normal" dy="2.4">2</tspan></text>
<text x="495.8" y="436.6" font-size="10.2" font-style="italic">A<tspan font-size="7" font-style="normal" dy="2.4">3</tspan></text>
<text x="2.4" y="477.8" font-size="12" font-weight="bold">d</text>
<rect x="41.6" y="595.2" width="62.1" height="48.8" fill="#dcdcdc"/>
<path d="M41.60,473.98 L42.10,484.80 L42.60,495.48 L43.10,504.80 L43.60,512.43 L44.11,523.60 L44.61,529.47 L45.11,536.62 L45.61,543.54 L46.11,548.54 L46.61,553.89 L47.11,555.96 L47.61,563.31 L48.11,568.04 L48.61,571.01 L49.12,577.09 L49.62,580.03 L50.12,581.85 L50.62,586.15 L51.12,589.54 L51.62,591.65 L52.12,595.04 L52.62,594.26 L53.12,596.24 L53.62,596.57 L54.12,601.99 L54.63,603.66 L55.13,605.26 L55.63,605.90 L56.13,607.98 L56.63,608.39 L57.13,611.01 L57.63,613.58 L58.13,611.04 L58.63,614.67 L59.13,613.66 L59.64,616.45 L60.14,616.78 L60.64,619.84 L61.14,619.83 L61.64,618.93 L62.14,619.43 L62.64,621.15 L63.14,621.36 L63.64,624.42 L64.14,622.73 L64.65,624.18 L65.15,625.17 L65.65,624.02 L66.15,625.50 L66.65,626.51 L67.15,626.38 L67.65,626.83 L68.15,627.13 L68.65,627.09 L69.16,628.12 L69.66,626.84 L70.16,626.40 L70.66,627.43 L71.16,629.42 L71.66,630.10 L72.16,629.16 L72.66,630.19 L73.16,628.55 L73.66,630.22 L74.17,630.20 L74.67,631.72 L75.17,631.06 L75.67,632.85 L76.17,633.55 L76.67,631.72 L77.17,633.55 L77.67,633.13 L78.17,631.52 L78.67,630.85 L79.18,632.91 L79.68,633.67 L80.18,632.39 L80.68,632.33 L81.18,633.02 L81.68,634.87 L82.18,634.58 L82.68,632.88 L83.18,635.60 L83.68,634.33 L84.19,633.06 L84.69,633.43 L85.19,635.59 L85.69,635.28 L86.19,635.31 L86.69,636.52 L87.19,635.19 L87.69,636.42 L88.19,634.75 L88.69,636.90 L89.20,636.47 L89.70,636.52 L90.20,635.84 L90.70,638.97 L91.20,634.91 L91.70,636.43 L92.20,636.07 L92.70,634.81 L93.20,636.37 L93.70,635.96 L94.21,636.38 L94.71,635.58 L95.21,635.84 L95.71,635.36 L96.21,636.89 L96.71,638.15 L97.21,636.62 L97.71,638.34 L98.21,637.08 L98.71,637.52 L99.22,639.76 L99.72,637.65 L100.22,638.51 L100.72,638.93 L101.22,639.56 L101.72,636.94 L102.22,636.76 L102.72,638.90 L103.22,638.85 L103.72,638.65 L104.23,638.94 L104.73,637.05 L105.23,638.98 L105.73,636.69 L106.23,640.76 L106.73,640.09 L107.23,636.96 L107.73,638.46 L108.23,640.49 L108.73,635.44 L109.24,637.28 L109.74,637.76 L110.24,641.22 L110.74,637.16 L111.24,638.30 L111.74,638.53 L112.24,638.83 L112.74,640.53 L113.24,639.84 L113.74,637.92 L114.25,637.29 L114.75,637.67 L115.25,638.02 L115.75,638.28 L116.25,637.92 L116.75,635.93 L117.25,638.50 L117.75,640.48 L118.25,638.09 L118.75,639.06 L119.26,639.98 L119.76,640.20 L120.26,637.79 L120.76,639.55 L121.26,638.99 L121.76,639.81 L122.26,637.42 L122.76,639.31 L123.26,639.34 L123.76,640.68 L124.27,640.36 L124.77,637.57 L125.27,640.09 L125.77,637.67 L126.27,638.30 L126.77,638.51 L127.27,638.66 L127.77,638.93 L128.27,637.56 L128.77,638.82 L129.28,640.65 L129.78,639.33 L130.28,637.13 L130.78,640.43 L131.28,639.05 L131.78,639.12 L132.28,637.71 L132.78,640.10 L133.28,637.40 L133.78,640.38 L134.29,638.92 L134.79,640.46 L135.29,638.89 L135.79,639.83 L136.29,640.92 L136.79,638.74 L137.29,640.32 L137.79,638.30 L138.29,642.20 L138.79,637.23 L139.30,639.28 L139.80,637.03 L140.30,638.26 L140.80,639.10 L141.30,639.41 L141.80,639.74 L142.30,638.30 L142.80,639.35 L143.30,640.93 L143.80,639.43 L144.31,638.52 L144.81,639.02 L145.31,638.83 L145.81,638.59 L146.31,642.08 L146.81,638.95 L147.31,637.36 L147.81,638.59 L148.31,639.59 L148.81,640.54 L149.32,639.94 L149.82,636.95 L150.32,639.77 L150.82,638.58 L151.32,639.32 L151.82,638.49 L152.32,640.72 L152.82,641.62 L153.32,639.75 L153.82,639.17 L154.33,642.47 L154.83,639.63 L155.33,639.12 L155.83,639.61 L156.33,639.84 L156.83,641.70 L157.33,640.45 L157.83,640.82 L158.33,638.51 L158.83,639.17 L159.34,638.89 L159.84,641.44 L160.34,641.04 L160.84,639.23 L161.34,639.54 L161.84,638.27 L162.34,640.25 L162.84,640.28 L163.34,638.57 L163.84,640.57 L164.35,640.11 L164.85,638.10 L165.35,637.66 L165.85,640.05 L166.35,641.21 L166.85,640.22 L167.35,643.12 L167.85,638.59 L168.35,637.60 L168.85,639.14 L169.36,640.64 L169.86,640.90 L170.36,640.14 L170.86,639.21 L171.36,638.44 L171.86,638.04 L172.36,637.36 L172.86,639.01 L173.36,638.08 L173.86,642.67 L174.36,641.10 L174.87,639.38 L175.37,640.81 L175.87,639.98 L176.37,639.44 L176.87,638.72 L177.37,639.38 L177.87,639.36 L178.37,639.85 L178.87,638.96 L179.37,638.19 L179.88,640.24 L180.38,639.15 L180.88,639.41 L181.38,639.87 L181.88,640.81 L182.38,640.51 L182.88,640.22 L183.38,639.11 L183.88,639.13 L184.38,638.72 L184.89,639.77 L185.39,641.16 L185.89,639.37 L186.39,642.27 L186.89,638.64 L187.39,637.59 L187.89,640.92 L188.39,640.44 L188.89,642.37 L189.39,640.04 L189.90,640.25 L190.40,639.49 L190.90,639.24 L191.40,639.99 L191.90,638.32 L192.40,638.64 L192.90,640.23 L193.40,638.92 L193.90,641.38 L194.40,641.94 L194.91,641.37 L195.41,637.68 L195.91,641.09 L196.41,641.02 L196.91,640.07 L197.41,639.92 L197.91,638.89 L198.41,638.36 L198.91,640.09 L199.41,640.42 L199.92,640.80 L200.42,640.95 L200.92,641.00 L201.42,640.49 L201.92,639.69 L202.42,638.80 L202.92,639.15 L203.42,640.08 L203.92,638.96 L204.42,641.08 L204.93,637.95 L205.43,638.93 L205.93,637.63 L206.43,639.69 L206.93,641.39 L207.43,637.63 L207.93,640.12 L208.43,641.09 L208.93,642.49 L209.43,642.50 L209.94,639.57 L210.44,639.24 L210.94,640.52 L211.44,637.78 L211.94,639.96 L212.44,639.07 L212.94,641.20 L213.44,641.05 L213.94,641.34 L214.44,639.24 L214.95,639.87 L215.45,639.97 L215.95,639.60 L216.45,639.93 L216.95,639.57 L217.45,643.37 L217.95,639.16 L218.45,639.17 L218.95,638.72 L219.45,639.90 L219.96,640.92 L220.46,641.47 L220.96,638.77 L221.46,640.93 L221.96,638.91 L222.46,639.65 L222.96,641.10 L223.46,639.76 L223.96,638.37 L224.46,639.68 L224.97,641.96 L225.47,639.92 L225.97,640.36 L226.47,639.71 L226.97,640.13 L227.47,639.31 L227.97,640.75 L228.47,639.89 L228.97,638.76 L229.47,639.37 L229.98,639.71 L230.48,639.63 L230.98,638.69 L231.48,638.77 L231.98,639.31 L232.48,642.16 L232.98,641.62 L233.48,640.88 L233.98,640.06 L234.48,641.38 L234.99,642.02 L235.49,640.21 L235.99,641.21 L236.49,641.35 L236.99,641.02 L237.49,641.30 L237.99,639.87 L238.49,639.09 L238.99,640.57 L239.49,641.30 L240.00,639.37 L240.50,641.03 L241.00,640.41 L241.50,640.65 L242.00,640.85 L242.50,637.86 L243.00,639.36 L243.50,638.60 L244.00,638.48 L244.50,639.84 L245.01,642.63 L245.51,639.35 L246.01,639.18 L246.51,642.01 L247.01,641.10 L247.51,638.60 L248.01,639.35 L248.51,638.98 L249.01,641.20 L249.51,639.27 L250.02,640.28 L250.52,639.32 L251.02,641.92 L251.52,640.38 L252.02,642.94 L252.52,641.32 L253.02,640.81 L253.52,640.40 L254.02,640.83 L254.52,640.99 L255.03,639.57 L255.53,640.41 L256.03,641.93 L256.53,639.69 L257.03,638.72 L257.53,640.46 L258.03,641.72 L258.53,638.74 L259.03,639.56 L259.53,642.81 L260.04,640.30 L260.54,640.81 L261.04,637.38 L261.54,640.34 L262.04,641.83 L262.54,639.48 L263.04,638.82 L263.54,642.54 L264.04,640.29" fill="none" stroke="#9a1515" stroke-width="2.1" stroke-linejoin="round"/>
<path d="M41.60,478.26 L42.10,481.74 L42.60,490.20 L43.10,497.94 L43.60,502.21 L44.11,510.49 L44.61,511.84 L45.11,519.14 L45.61,524.88 L46.11,528.45 L46.61,535.33 L47.11,537.31 L47.61,540.70 L48.11,544.46 L48.61,548.61 L49.12,554.00 L49.62,555.48 L50.12,560.67 L50.62,561.60 L51.12,565.43 L51.62,568.27 L52.12,568.88 L52.62,569.77 L53.12,572.69 L53.62,577.27 L54.12,579.44 L54.63,582.15 L55.13,583.63 L55.63,584.59 L56.13,585.98 L56.63,588.81 L57.13,589.89 L57.63,592.93 L58.13,593.65 L58.63,592.81 L59.13,594.16 L59.64,596.55 L60.14,598.38 L60.64,599.45 L61.14,601.78 L61.64,603.53 L62.14,602.54 L62.64,605.62 L63.14,604.78 L63.64,607.72 L64.14,607.32 L64.65,606.09 L65.15,608.28 L65.65,610.00 L66.15,610.37 L66.65,613.41 L67.15,611.08 L67.65,613.97 L68.15,614.73 L68.65,615.29 L69.16,614.98 L69.66,616.58 L70.16,617.13 L70.66,616.37 L71.16,617.29 L71.66,616.55 L72.16,617.62 L72.66,617.65 L73.16,621.04 L73.66,620.02 L74.17,619.95 L74.67,619.96 L75.17,621.89 L75.67,621.17 L76.17,620.99 L76.67,623.89 L77.17,624.19 L77.67,624.53 L78.17,623.59 L78.67,625.60 L79.18,624.55 L79.68,625.49 L80.18,626.46 L80.68,627.75 L81.18,623.05 L81.68,624.59 L82.18,625.14 L82.68,628.64 L83.18,625.90 L83.68,627.67 L84.19,629.03 L84.69,628.44 L85.19,628.56 L85.69,626.22 L86.19,628.25 L86.69,628.71 L87.19,628.30 L87.69,628.49 L88.19,630.81 L88.69,628.05 L89.20,629.39 L89.70,628.62 L90.20,627.97 L90.70,630.62 L91.20,627.54 L91.70,630.95 L92.20,631.06 L92.70,633.57 L93.20,629.33 L93.70,631.42 L94.21,632.03 L94.71,632.15 L95.21,630.92 L95.71,630.41 L96.21,631.00 L96.71,632.33 L97.21,632.97 L97.71,634.58 L98.21,633.19 L98.71,631.95 L99.22,633.11 L99.72,630.36 L100.22,631.65 L100.72,633.32 L101.22,632.43 L101.72,632.90 L102.22,634.20 L102.72,633.76 L103.22,635.32 L103.72,633.94 L104.23,632.37 L104.73,634.31 L105.23,631.71 L105.73,634.15 L106.23,633.08 L106.73,633.50 L107.23,634.96 L107.73,635.63 L108.23,633.79 L108.73,633.43 L109.24,634.50 L109.74,634.72 L110.24,638.09 L110.74,635.49 L111.24,633.64 L111.74,633.55 L112.24,634.44 L112.74,635.92 L113.24,633.96 L113.74,635.45 L114.25,634.19 L114.75,633.46 L115.25,636.42 L115.75,635.68 L116.25,635.08 L116.75,634.98 L117.25,635.38 L117.75,634.52 L118.25,634.49 L118.75,636.36 L119.26,635.86 L119.76,634.52 L120.26,637.14 L120.76,636.59 L121.26,638.49 L121.76,637.06 L122.26,633.66 L122.76,633.50 L123.26,636.58 L123.76,633.95 L124.27,635.60 L124.77,635.74 L125.27,636.42 L125.77,634.92 L126.27,638.13 L126.77,634.62 L127.27,636.15 L127.77,636.46 L128.27,638.64 L128.77,633.65 L129.28,635.56 L129.78,636.28 L130.28,636.55 L130.78,635.50 L131.28,637.31 L131.78,636.36 L132.28,635.83 L132.78,637.65 L133.28,637.68 L133.78,635.46 L134.29,638.01 L134.79,637.99 L135.29,636.38 L135.79,634.52 L136.29,634.85 L136.79,638.25 L137.29,634.60 L137.79,638.77 L138.29,637.71 L138.79,636.72 L139.30,636.11 L139.80,636.35 L140.30,636.69 L140.80,639.59 L141.30,639.33 L141.80,637.41 L142.30,636.82 L142.80,637.45 L143.30,638.26 L143.80,637.18 L144.31,636.38 L144.81,641.16 L145.31,636.05 L145.81,635.50 L146.31,636.81 L146.81,638.47 L147.31,637.69 L147.81,637.67 L148.31,635.23 L148.81,637.35 L149.32,636.80 L149.82,636.60 L150.32,637.65 L150.82,638.63 L151.32,639.93 L151.82,638.75 L152.32,637.00 L152.82,636.97 L153.32,640.35 L153.82,638.54 L154.33,638.03 L154.83,637.15 L155.33,638.63 L155.83,638.61 L156.33,638.20 L156.83,637.68 L157.33,638.22 L157.83,639.23 L158.33,638.60 L158.83,638.17 L159.34,639.04 L159.84,638.54 L160.34,638.62 L160.84,640.27 L161.34,636.20 L161.84,638.52 L162.34,637.43 L162.84,636.08 L163.34,638.04 L163.84,639.47 L164.35,638.52 L164.85,639.47 L165.35,638.95 L165.85,637.63 L166.35,639.46 L166.85,637.87 L167.35,638.31 L167.85,636.72 L168.35,638.01 L168.85,637.59 L169.36,637.88 L169.86,639.19 L170.36,639.06 L170.86,639.85 L171.36,640.11 L171.86,636.20 L172.36,640.01 L172.86,637.35 L173.36,639.04 L173.86,640.15 L174.36,638.76 L174.87,637.78 L175.37,637.69 L175.87,637.47 L176.37,638.94 L176.87,638.36 L177.37,639.71 L177.87,639.87 L178.37,638.08 L178.87,637.84 L179.37,639.22 L179.88,638.97 L180.38,639.72 L180.88,638.97 L181.38,640.43 L181.88,638.85 L182.38,639.09 L182.88,639.28 L183.38,636.56 L183.88,640.03 L184.38,638.76 L184.89,638.26 L185.39,640.09 L185.89,638.05 L186.39,640.22 L186.89,638.66 L187.39,638.99 L187.89,637.39 L188.39,641.21 L188.89,637.32 L189.39,635.82 L189.90,638.45 L190.40,640.53 L190.90,639.06 L191.40,640.76 L191.90,638.29 L192.40,639.08 L192.90,640.69 L193.40,637.13 L193.90,639.61 L194.40,637.47 L194.91,639.75 L195.41,639.80 L195.91,640.85 L196.41,638.97 L196.91,639.55 L197.41,640.51 L197.91,637.20 L198.41,639.58 L198.91,636.93 L199.41,639.03 L199.92,641.65 L200.42,641.28 L200.92,639.17 L201.42,637.37 L201.92,639.73 L202.42,640.67 L202.92,640.49 L203.42,638.18 L203.92,637.65 L204.42,639.75 L204.93,640.66 L205.43,640.96 L205.93,638.63 L206.43,640.89 L206.93,639.62 L207.43,639.87 L207.93,637.47 L208.43,641.90 L208.93,640.97 L209.43,640.32 L209.94,638.14 L210.44,640.21 L210.94,638.39 L211.44,640.56 L211.94,642.07 L212.44,640.77 L212.94,638.16 L213.44,640.38 L213.94,641.12 L214.44,640.04 L214.95,640.79 L215.45,639.42 L215.95,639.51 L216.45,638.66 L216.95,639.15 L217.45,636.81 L217.95,641.75 L218.45,638.31 L218.95,643.69 L219.45,638.96 L219.96,640.63 L220.46,640.32 L220.96,640.57 L221.46,639.28 L221.96,640.19 L222.46,638.84 L222.96,639.95 L223.46,638.55 L223.96,636.84 L224.46,639.28 L224.97,639.35 L225.47,640.80 L225.97,639.56 L226.47,640.10 L226.97,640.98 L227.47,640.87 L227.97,637.28 L228.47,642.09 L228.97,641.57 L229.47,641.24 L229.98,639.97 L230.48,640.31 L230.98,639.34 L231.48,639.44 L231.98,639.78 L232.48,641.20 L232.98,640.69 L233.48,638.69 L233.98,638.54 L234.48,640.36 L234.99,639.25 L235.49,640.85 L235.99,641.05 L236.49,641.60 L236.99,638.77 L237.49,637.42 L237.99,639.63 L238.49,639.20 L238.99,639.00 L239.49,640.05 L240.00,642.49 L240.50,638.65 L241.00,639.43 L241.50,638.16 L242.00,640.00 L242.50,640.38 L243.00,637.30 L243.50,637.65 L244.00,639.07 L244.50,641.51 L245.01,640.87 L245.51,640.96 L246.01,639.69 L246.51,640.07 L247.01,640.14 L247.51,638.95 L248.01,641.76 L248.51,642.17 L249.01,639.93 L249.51,639.35 L250.02,639.84 L250.52,637.56 L251.02,640.45 L251.52,640.42 L252.02,640.28 L252.52,641.17 L253.02,638.96 L253.52,639.59 L254.02,638.15 L254.52,642.35 L255.03,641.59 L255.53,638.61 L256.03,639.45 L256.53,640.22 L257.03,639.59 L257.53,638.96 L258.03,640.83 L258.53,638.47 L259.03,639.19 L259.53,640.07 L260.04,640.25 L260.54,638.56 L261.04,640.09 L261.54,640.69 L262.04,641.57 L262.54,640.67 L263.04,639.86 L263.54,641.15 L264.04,640.70" fill="none" stroke="#b4300f" stroke-width="2.1" stroke-linejoin="round"/>
<path d="M41.60,478.17 L42.10,481.85 L42.60,487.90 L43.10,494.72 L43.60,498.90 L44.11,506.52 L44.61,510.47 L45.11,515.35 L45.61,519.88 L46.11,526.17 L46.61,526.95 L47.11,533.07 L47.61,536.18 L48.11,539.76 L48.61,545.52 L49.12,548.80 L49.62,550.32 L50.12,554.29 L50.62,557.50 L51.12,560.18 L51.62,561.82 L52.12,565.19 L52.62,569.80 L53.12,570.04 L53.62,571.69 L54.12,574.63 L54.63,574.66 L55.13,579.96 L55.63,581.07 L56.13,580.21 L56.63,583.75 L57.13,584.85 L57.63,586.63 L58.13,587.86 L58.63,589.64 L59.13,592.92 L59.64,590.54 L60.14,594.64 L60.64,595.44 L61.14,595.76 L61.64,596.74 L62.14,598.75 L62.64,601.76 L63.14,602.61 L63.64,601.21 L64.14,602.75 L64.65,602.83 L65.15,604.03 L65.65,606.99 L66.15,607.19 L66.65,605.26 L67.15,609.37 L67.65,611.15 L68.15,608.08 L68.65,611.59 L69.16,610.50 L69.66,614.59 L70.16,614.28 L70.66,613.66 L71.16,614.45 L71.66,614.48 L72.16,614.81 L72.66,615.78 L73.16,618.76 L73.66,615.87 L74.17,616.68 L74.67,618.33 L75.17,618.68 L75.67,622.02 L76.17,619.47 L76.67,619.17 L77.17,621.41 L77.67,620.85 L78.17,622.25 L78.67,620.22 L79.18,619.66 L79.68,622.98 L80.18,623.63 L80.68,624.41 L81.18,621.86 L81.68,623.24 L82.18,624.01 L82.68,624.30 L83.18,625.74 L83.68,626.31 L84.19,624.83 L84.69,626.77 L85.19,625.84 L85.69,626.24 L86.19,624.32 L86.69,626.59 L87.19,629.94 L87.69,626.54 L88.19,627.27 L88.69,627.04 L89.20,628.73 L89.70,627.82 L90.20,629.30 L90.70,629.92 L91.20,627.57 L91.70,630.21 L92.20,628.40 L92.70,626.91 L93.20,628.88 L93.70,630.28 L94.21,630.39 L94.71,631.64 L95.21,629.81 L95.71,630.00 L96.21,630.49 L96.71,629.08 L97.21,631.41 L97.71,629.70 L98.21,630.67 L98.71,631.19 L99.22,631.82 L99.72,632.69 L100.22,632.31 L100.72,631.86 L101.22,631.86 L101.72,628.72 L102.22,631.59 L102.72,631.69 L103.22,631.52 L103.72,632.52 L104.23,632.51 L104.73,632.75 L105.23,634.68 L105.73,633.58 L106.23,631.41 L106.73,634.77 L107.23,632.83 L107.73,632.98 L108.23,632.94 L108.73,630.95 L109.24,631.80 L109.74,632.52 L110.24,633.64 L110.74,633.75 L111.24,634.60 L111.74,634.79 L112.24,634.59 L112.74,636.45 L113.24,635.03 L113.74,632.13 L114.25,636.20 L114.75,633.59 L115.25,635.55 L115.75,633.70 L116.25,632.30 L116.75,634.96 L117.25,635.15 L117.75,634.99 L118.25,634.50 L118.75,634.34 L119.26,637.71 L119.76,633.22 L120.26,634.90 L120.76,633.01 L121.26,636.68 L121.76,635.26 L122.26,635.85 L122.76,636.32 L123.26,635.77 L123.76,636.41 L124.27,636.01 L124.77,635.11 L125.27,633.98 L125.77,635.13 L126.27,635.24 L126.77,637.18 L127.27,637.15 L127.77,635.49 L128.27,635.56 L128.77,636.40 L129.28,635.73 L129.78,635.06 L130.28,636.42 L130.78,634.71 L131.28,636.03 L131.78,637.46 L132.28,636.55 L132.78,636.71 L133.28,636.55 L133.78,635.47 L134.29,635.04 L134.79,635.17 L135.29,636.22 L135.79,636.39 L136.29,634.53 L136.79,638.25 L137.29,636.90 L137.79,637.11 L138.29,635.37 L138.79,638.12 L139.30,636.55 L139.80,637.96 L140.30,637.77 L140.80,636.85 L141.30,638.21 L141.80,636.93 L142.30,636.63 L142.80,636.88 L143.30,637.00 L143.80,635.50 L144.31,636.19 L144.81,637.80 L145.31,638.05 L145.81,636.76 L146.31,638.05 L146.81,638.85 L147.31,636.26 L147.81,636.97 L148.31,636.19 L148.81,638.02 L149.32,635.67 L149.82,636.88 L150.32,636.39 L150.82,637.91 L151.32,639.41 L151.82,636.40 L152.32,637.99 L152.82,638.38 L153.32,638.05 L153.82,638.64 L154.33,635.91 L154.83,636.62 L155.33,638.18 L155.83,636.36 L156.33,636.69 L156.83,637.03 L157.33,637.40 L157.83,636.28 L158.33,637.33 L158.83,637.88 L159.34,638.61 L159.84,638.16 L160.34,639.10 L160.84,639.46 L161.34,637.40 L161.84,639.66 L162.34,638.16 L162.84,638.77 L163.34,636.91 L163.84,637.54 L164.35,638.74 L164.85,639.13 L165.35,638.10 L165.85,638.70 L166.35,637.59 L166.85,637.86 L167.35,639.61 L167.85,636.17 L168.35,637.81 L168.85,639.09 L169.36,638.11 L169.86,639.00 L170.36,638.78 L170.86,640.30 L171.36,638.99 L171.86,639.29 L172.36,637.87 L172.86,639.07 L173.36,638.12 L173.86,639.05 L174.36,639.50 L174.87,637.87 L175.37,636.29 L175.87,638.14 L176.37,639.24 L176.87,639.11 L177.37,639.24 L177.87,638.86 L178.37,637.50 L178.87,638.55 L179.37,638.65 L179.88,638.27 L180.38,639.81 L180.88,639.18 L181.38,638.18 L181.88,637.24 L182.38,640.37 L182.88,636.53 L183.38,637.28 L183.88,638.84 L184.38,638.45 L184.89,640.28 L185.39,637.82 L185.89,638.07 L186.39,638.77 L186.89,638.93 L187.39,637.60 L187.89,638.66 L188.39,637.08 L188.89,638.30 L189.39,641.05 L189.90,637.63 L190.40,638.55 L190.90,638.18 L191.40,640.19 L191.90,641.38 L192.40,639.52 L192.90,639.16 L193.40,639.84 L193.90,637.64 L194.40,637.07 L194.91,639.60 L195.41,637.71 L195.91,639.80 L196.41,640.14 L196.91,641.40 L197.41,639.94 L197.91,640.46 L198.41,639.73 L198.91,639.16 L199.41,637.44 L199.92,638.48 L200.42,636.98 L200.92,639.17 L201.42,641.63 L201.92,641.74 L202.42,640.57 L202.92,638.88 L203.42,636.46 L203.92,637.94 L204.42,640.45 L204.93,638.43 L205.43,639.04 L205.93,639.04 L206.43,637.79 L206.93,641.52 L207.43,639.35 L207.93,640.61 L208.43,639.81 L208.93,639.00 L209.43,637.61 L209.94,640.97 L210.44,639.44 L210.94,639.93 L211.44,639.45 L211.94,638.84 L212.44,638.95 L212.94,637.93 L213.44,639.91 L213.94,639.85 L214.44,638.20 L214.95,639.74 L215.45,638.92 L215.95,637.94 L216.45,639.53 L216.95,637.73 L217.45,640.31 L217.95,638.32 L218.45,638.95 L218.95,640.95 L219.45,638.56 L219.96,638.82 L220.46,640.63 L220.96,641.98 L221.46,638.86 L221.96,640.50 L222.46,640.45 L222.96,636.37 L223.46,639.59 L223.96,641.52 L224.46,639.23 L224.97,639.43 L225.47,640.28 L225.97,638.22 L226.47,638.65 L226.97,638.63 L227.47,640.68 L227.97,638.97 L228.47,638.90 L228.97,639.15 L229.47,639.14 L229.98,640.73 L230.48,638.98 L230.98,641.56 L231.48,638.61 L231.98,640.99 L232.48,639.45 L232.98,639.64 L233.48,639.17 L233.98,640.45 L234.48,638.19 L234.99,641.04 L235.49,639.09 L235.99,639.40 L236.49,640.38 L236.99,640.48 L237.49,642.15 L237.99,639.59 L238.49,638.37 L238.99,640.68 L239.49,638.97 L240.00,639.90 L240.50,641.41 L241.00,639.78 L241.50,639.11 L242.00,640.53 L242.50,640.56 L243.00,640.27 L243.50,640.76 L244.00,640.91 L244.50,640.66 L245.01,640.72 L245.51,640.02 L246.01,640.37 L246.51,640.46 L247.01,640.31 L247.51,640.91 L248.01,639.31 L248.51,638.41 L249.01,641.14 L249.51,638.28 L250.02,642.25 L250.52,639.77 L251.02,640.41 L251.52,637.48 L252.02,639.50 L252.52,641.00 L253.02,641.04 L253.52,638.52 L254.02,640.04 L254.52,640.51 L255.03,640.44 L255.53,639.43 L256.03,639.01 L256.53,641.54 L257.03,640.85 L257.53,640.68 L258.03,641.05 L258.53,638.15 L259.03,639.20 L259.53,639.81 L260.04,642.09 L260.54,638.50 L261.04,638.13 L261.54,638.27 L262.04,638.50 L262.54,639.32 L263.04,638.16 L263.54,638.41 L264.04,638.32" fill="none" stroke="#c45c1a" stroke-width="2.1" stroke-linejoin="round"/>
<path d="M41.60,476.34 L42.10,481.59 L42.60,488.13 L43.10,493.89 L43.60,501.77 L44.11,503.19 L44.61,507.72 L45.11,512.78 L45.61,518.03 L46.11,522.54 L46.61,524.87 L47.11,528.22 L47.61,532.77 L48.11,537.55 L48.61,539.63 L49.12,541.11 L49.62,548.09 L50.12,548.86 L50.62,554.57 L51.12,557.09 L51.62,555.99 L52.12,562.83 L52.62,564.51 L53.12,568.21 L53.62,567.88 L54.12,572.23 L54.63,573.44 L55.13,574.30 L55.63,576.90 L56.13,575.70 L56.63,580.48 L57.13,582.58 L57.63,582.89 L58.13,585.84 L58.63,587.35 L59.13,589.64 L59.64,589.92 L60.14,590.38 L60.64,593.65 L61.14,594.44 L61.64,596.43 L62.14,597.62 L62.64,596.45 L63.14,600.75 L63.64,601.91 L64.14,602.97 L64.65,604.28 L65.15,602.64 L65.65,602.76 L66.15,606.63 L66.65,604.33 L67.15,605.18 L67.65,607.66 L68.15,607.98 L68.65,609.68 L69.16,608.35 L69.66,610.00 L70.16,610.85 L70.66,612.61 L71.16,612.85 L71.66,610.48 L72.16,613.77 L72.66,613.00 L73.16,616.55 L73.66,614.86 L74.17,613.78 L74.67,615.70 L75.17,616.37 L75.67,617.90 L76.17,617.08 L76.67,616.75 L77.17,618.34 L77.67,618.60 L78.17,619.61 L78.67,619.70 L79.18,617.55 L79.68,622.05 L80.18,621.33 L80.68,623.43 L81.18,620.70 L81.68,623.38 L82.18,622.27 L82.68,624.20 L83.18,621.55 L83.68,622.15 L84.19,623.60 L84.69,624.16 L85.19,624.47 L85.69,625.08 L86.19,623.87 L86.69,626.06 L87.19,626.58 L87.69,626.70 L88.19,625.90 L88.69,628.67 L89.20,625.19 L89.70,626.21 L90.20,626.49 L90.70,626.84 L91.20,626.93 L91.70,626.81 L92.20,626.84 L92.70,628.10 L93.20,631.12 L93.70,626.81 L94.21,628.28 L94.71,628.45 L95.21,626.17 L95.71,627.06 L96.21,629.16 L96.71,627.87 L97.21,629.20 L97.71,630.97 L98.21,629.12 L98.71,629.85 L99.22,629.76 L99.72,631.99 L100.22,631.72 L100.72,631.07 L101.22,629.58 L101.72,629.28 L102.22,630.44 L102.72,630.42 L103.22,632.39 L103.72,630.81 L104.23,630.93 L104.73,630.34 L105.23,633.14 L105.73,631.75 L106.23,630.35 L106.73,630.80 L107.23,630.94 L107.73,631.12 L108.23,632.05 L108.73,633.69 L109.24,632.30 L109.74,633.03 L110.24,630.90 L110.74,632.70 L111.24,630.69 L111.74,632.13 L112.24,634.39 L112.74,632.19 L113.24,633.40 L113.74,632.87 L114.25,633.40 L114.75,634.15 L115.25,633.80 L115.75,632.85 L116.25,633.02 L116.75,633.79 L117.25,633.77 L117.75,634.44 L118.25,631.26 L118.75,633.44 L119.26,635.82 L119.76,632.81 L120.26,634.57 L120.76,634.20 L121.26,636.97 L121.76,635.86 L122.26,634.74 L122.76,633.01 L123.26,632.26 L123.76,635.12 L124.27,634.08 L124.77,634.58 L125.27,632.78 L125.77,635.40 L126.27,633.24 L126.77,637.00 L127.27,637.30 L127.77,634.00 L128.27,638.00 L128.77,635.23 L129.28,635.02 L129.78,634.62 L130.28,635.31 L130.78,634.93 L131.28,635.21 L131.78,635.99 L132.28,636.92 L132.78,635.78 L133.28,634.33 L133.78,635.54 L134.29,634.74 L134.79,636.23 L135.29,635.68 L135.79,633.59 L136.29,636.96 L136.79,637.18 L137.29,634.82 L137.79,635.00 L138.29,636.04 L138.79,637.32 L139.30,637.03 L139.80,635.31 L140.30,635.45 L140.80,636.39 L141.30,634.76 L141.80,637.06 L142.30,637.99 L142.80,635.19 L143.30,638.27 L143.80,634.21 L144.31,634.36 L144.81,637.51 L145.31,638.07 L145.81,639.00 L146.31,636.48 L146.81,637.43 L147.31,635.19 L147.81,638.13 L148.31,635.97 L148.81,638.20 L149.32,637.97 L149.82,637.37 L150.32,637.30 L150.82,636.91 L151.32,636.01 L151.82,637.83 L152.32,636.24 L152.82,637.67 L153.32,636.34 L153.82,638.03 L154.33,637.25 L154.83,635.36 L155.33,635.80 L155.83,638.64 L156.33,639.33 L156.83,638.82 L157.33,635.33 L157.83,638.82 L158.33,637.01 L158.83,636.79 L159.34,637.53 L159.84,639.09 L160.34,639.21 L160.84,638.49 L161.34,635.64 L161.84,637.95 L162.34,638.06 L162.84,637.72 L163.34,633.95 L163.84,637.95 L164.35,637.91 L164.85,638.48 L165.35,638.98 L165.85,635.64 L166.35,636.36 L166.85,639.50 L167.35,636.98 L167.85,639.39 L168.35,635.86 L168.85,639.00 L169.36,638.78 L169.86,638.71 L170.36,635.45 L170.86,640.26 L171.36,640.82 L171.86,637.68 L172.36,637.08 L172.86,639.50 L173.36,641.44 L173.86,638.17 L174.36,639.67 L174.87,636.62 L175.37,639.47 L175.87,638.94 L176.37,637.36 L176.87,642.42 L177.37,640.62 L177.87,639.19 L178.37,639.49 L178.87,638.75 L179.37,639.00 L179.88,640.17 L180.38,638.95 L180.88,638.61 L181.38,641.30 L181.88,636.97 L182.38,637.97 L182.88,639.59 L183.38,638.52 L183.88,639.61 L184.38,638.65 L184.89,637.87 L185.39,636.23 L185.89,639.12 L186.39,639.07 L186.89,639.00 L187.39,638.37 L187.89,639.57 L188.39,637.94 L188.89,638.37 L189.39,638.66 L189.90,642.10 L190.40,637.51 L190.90,639.58 L191.40,636.22 L191.90,637.22 L192.40,637.41 L192.90,637.63 L193.40,637.60 L193.90,637.58 L194.40,636.66 L194.91,638.20 L195.41,639.42 L195.91,637.09 L196.41,639.12 L196.91,636.66 L197.41,638.30 L197.91,640.19 L198.41,638.48 L198.91,639.90 L199.41,638.80 L199.92,637.38 L200.42,639.99 L200.92,638.98 L201.42,641.36 L201.92,639.25 L202.42,637.23 L202.92,639.14 L203.42,640.32 L203.92,640.09 L204.42,640.52 L204.93,638.15 L205.43,640.19 L205.93,640.51 L206.43,638.12 L206.93,639.00 L207.43,641.06 L207.93,640.51 L208.43,638.25 L208.93,637.60 L209.43,639.94 L209.94,639.35 L210.44,640.06 L210.94,640.77 L211.44,639.09 L211.94,639.62 L212.44,637.80 L212.94,638.78 L213.44,638.97 L213.94,640.88 L214.44,637.75 L214.95,638.62 L215.45,640.02 L215.95,637.09 L216.45,641.04 L216.95,640.38 L217.45,638.68 L217.95,639.41 L218.45,638.80 L218.95,639.17 L219.45,640.53 L219.96,638.36 L220.46,637.67 L220.96,639.59 L221.46,640.39 L221.96,639.73 L222.46,641.89 L222.96,641.63 L223.46,640.03 L223.96,640.53 L224.46,637.59 L224.97,638.95 L225.47,641.72 L225.97,640.57 L226.47,639.83 L226.97,637.82 L227.47,641.07 L227.97,640.90 L228.47,638.06 L228.97,641.46 L229.47,640.12 L229.98,639.98 L230.48,641.45 L230.98,642.61 L231.48,638.26 L231.98,640.45 L232.48,640.82 L232.98,639.99 L233.48,638.40 L233.98,638.42 L234.48,639.74 L234.99,640.12 L235.49,639.26 L235.99,639.89 L236.49,639.27 L236.99,639.94 L237.49,638.40 L237.99,640.22 L238.49,639.84 L238.99,643.73 L239.49,639.57 L240.00,640.44 L240.50,642.20 L241.00,640.01 L241.50,640.38 L242.00,640.49 L242.50,639.49 L243.00,640.02 L243.50,639.97 L244.00,641.44 L244.50,640.99 L245.01,641.05 L245.51,638.30 L246.01,638.78 L246.51,638.55 L247.01,639.11 L247.51,642.82 L248.01,639.24 L248.51,641.08 L249.01,641.04 L249.51,639.31 L250.02,640.64 L250.52,639.10 L251.02,640.48 L251.52,639.66 L252.02,638.96 L252.52,639.47 L253.02,639.38 L253.52,639.53 L254.02,640.07 L254.52,640.59 L255.03,641.21 L255.53,640.17 L256.03,638.91 L256.53,638.61 L257.03,640.76 L257.53,639.02 L258.03,639.98 L258.53,641.05 L259.03,638.50 L259.53,642.39 L260.04,639.51 L260.54,639.18 L261.04,641.23 L261.54,638.72 L262.04,640.00 L262.54,640.89 L263.04,639.67 L263.54,640.89 L264.04,638.96" fill="none" stroke="#d6841c" stroke-width="2.1" stroke-linejoin="round"/>
<path d="M41.60,475.64 L42.10,479.39 L42.60,486.66 L43.10,489.57 L43.60,497.95 L44.11,501.54 L44.61,504.73 L45.11,512.26 L45.61,514.12 L46.11,520.79 L46.61,522.89 L47.11,526.07 L47.61,530.70 L48.11,532.20 L48.61,535.58 L49.12,540.85 L49.62,543.58 L50.12,546.19 L50.62,551.24 L51.12,554.08 L51.62,556.97 L52.12,558.11 L52.62,561.86 L53.12,563.72 L53.62,564.33 L54.12,566.69 L54.63,567.91 L55.13,571.32 L55.63,573.74 L56.13,574.52 L56.63,577.67 L57.13,576.13 L57.63,578.88 L58.13,580.45 L58.63,583.26 L59.13,585.94 L59.64,586.56 L60.14,589.08 L60.64,590.13 L61.14,591.57 L61.64,592.96 L62.14,592.31 L62.64,596.43 L63.14,594.36 L63.64,597.27 L64.14,598.41 L64.65,599.70 L65.15,600.41 L65.65,600.64 L66.15,601.06 L66.65,603.67 L67.15,602.51 L67.65,602.69 L68.15,605.85 L68.65,608.66 L69.16,607.86 L69.66,607.01 L70.16,607.00 L70.66,606.53 L71.16,610.59 L71.66,612.37 L72.16,611.48 L72.66,612.98 L73.16,611.73 L73.66,612.54 L74.17,613.80 L74.67,613.77 L75.17,615.52 L75.67,616.80 L76.17,616.39 L76.67,615.01 L77.17,616.43 L77.67,614.39 L78.17,617.44 L78.67,616.68 L79.18,619.20 L79.68,618.76 L80.18,621.36 L80.68,619.67 L81.18,619.73 L81.68,621.44 L82.18,619.99 L82.68,623.06 L83.18,621.50 L83.68,621.80 L84.19,623.80 L84.69,621.44 L85.19,622.83 L85.69,624.92 L86.19,625.28 L86.69,621.77 L87.19,623.80 L87.69,625.35 L88.19,624.35 L88.69,624.09 L89.20,625.76 L89.70,625.09 L90.20,623.97 L90.70,626.18 L91.20,626.55 L91.70,627.14 L92.20,626.51 L92.70,626.55 L93.20,627.23 L93.70,626.21 L94.21,628.37 L94.71,627.11 L95.21,626.57 L95.71,628.02 L96.21,629.42 L96.71,627.62 L97.21,627.85 L97.71,627.12 L98.21,627.99 L98.71,629.01 L99.22,629.49 L99.72,628.29 L100.22,630.59 L100.72,628.95 L101.22,630.34 L101.72,629.13 L102.22,628.38 L102.72,628.91 L103.22,630.86 L103.72,631.53 L104.23,629.47 L104.73,629.75 L105.23,630.55 L105.73,632.14 L106.23,629.30 L106.73,632.71 L107.23,630.54 L107.73,632.56 L108.23,630.42 L108.73,631.82 L109.24,631.72 L109.74,632.72 L110.24,632.56 L110.74,632.30 L111.24,633.23 L111.74,631.76 L112.24,631.90 L112.74,633.93 L113.24,633.20 L113.74,632.34 L114.25,633.31 L114.75,631.98 L115.25,632.58 L115.75,631.43 L116.25,633.74 L116.75,631.29 L117.25,631.94 L117.75,634.74 L118.25,634.87 L118.75,632.74 L119.26,630.70 L119.76,635.32 L120.26,632.95 L120.76,631.78 L121.26,632.12 L121.76,632.39 L122.26,634.22 L122.76,634.32 L123.26,634.28 L123.76,635.00 L124.27,635.77 L124.77,633.21 L125.27,636.19 L125.77,634.30 L126.27,632.30 L126.77,634.92 L127.27,634.88 L127.77,633.93 L128.27,634.48 L128.77,633.65 L129.28,633.70 L129.78,636.75 L130.28,635.16 L130.78,636.48 L131.28,635.16 L131.78,635.52 L132.28,635.31 L132.78,636.70 L133.28,635.16 L133.78,635.08 L134.29,634.55 L134.79,634.19 L135.29,635.84 L135.79,634.94 L136.29,635.32 L136.79,638.02 L137.29,636.99 L137.79,634.92 L138.29,634.15 L138.79,637.08 L139.30,636.39 L139.80,636.51 L140.30,635.40 L140.80,636.05 L141.30,635.27 L141.80,635.68 L142.30,637.58 L142.80,633.85 L143.30,636.51 L143.80,639.81 L144.31,635.25 L144.81,635.73 L145.31,638.39 L145.81,636.83 L146.31,637.51 L146.81,634.99 L147.31,636.56 L147.81,636.04 L148.31,635.44 L148.81,633.74 L149.32,639.40 L149.82,637.78 L150.32,636.69 L150.82,638.75 L151.32,638.50 L151.82,635.11 L152.32,636.06 L152.82,635.73 L153.32,638.30 L153.82,635.56 L154.33,637.64 L154.83,639.73 L155.33,634.84 L155.83,636.66 L156.33,637.86 L156.83,635.66 L157.33,636.02 L157.83,637.86 L158.33,638.24 L158.83,635.44 L159.34,636.34 L159.84,638.22 L160.34,635.80 L160.84,638.78 L161.34,638.32 L161.84,635.04 L162.34,637.70 L162.84,637.90 L163.34,639.16 L163.84,636.90 L164.35,639.45 L164.85,636.81 L165.35,635.49 L165.85,635.96 L166.35,636.52 L166.85,638.48 L167.35,637.72 L167.85,638.05 L168.35,636.89 L168.85,638.42 L169.36,638.12 L169.86,637.66 L170.36,637.00 L170.86,637.76 L171.36,639.55 L171.86,638.49 L172.36,638.09 L172.86,639.41 L173.36,639.75 L173.86,639.23 L174.36,639.05 L174.87,635.03 L175.37,637.85 L175.87,640.93 L176.37,637.90 L176.87,639.85 L177.37,637.64 L177.87,638.27 L178.37,638.41 L178.87,637.70 L179.37,638.14 L179.88,639.41 L180.38,638.36 L180.88,639.45 L181.38,636.17 L181.88,640.08 L182.38,638.04 L182.88,638.92 L183.38,638.67 L183.88,638.49 L184.38,638.58 L184.89,639.05 L185.39,640.65 L185.89,639.23 L186.39,637.15 L186.89,639.56 L187.39,640.07 L187.89,637.89 L188.39,637.75 L188.89,636.91 L189.39,639.80 L189.90,638.05 L190.40,637.29 L190.90,639.35 L191.40,638.37 L191.90,638.09 L192.40,638.63 L192.90,639.84 L193.40,640.04 L193.90,639.50 L194.40,639.46 L194.91,639.80 L195.41,637.82 L195.91,638.68 L196.41,639.54 L196.91,640.63 L197.41,638.30 L197.91,638.61 L198.41,636.82 L198.91,638.04 L199.41,639.65 L199.92,639.44 L200.42,637.87 L200.92,637.52 L201.42,640.03 L201.92,639.90 L202.42,639.46 L202.92,637.07 L203.42,640.04 L203.92,639.19 L204.42,637.99 L204.93,637.49 L205.43,638.66 L205.93,639.45 L206.43,638.88 L206.93,638.50 L207.43,639.06 L207.93,637.21 L208.43,641.14 L208.93,637.87 L209.43,640.06 L209.94,638.63 L210.44,637.75 L210.94,636.82 L211.44,641.34 L211.94,636.80 L212.44,639.31 L212.94,638.32 L213.44,638.76 L213.94,639.38 L214.44,638.07 L214.95,638.76 L215.45,639.99 L215.95,640.22 L216.45,639.11 L216.95,638.81 L217.45,638.48 L217.95,639.39 L218.45,636.59 L218.95,636.06 L219.45,639.64 L219.96,639.49 L220.46,641.13 L220.96,639.67 L221.46,638.28 L221.96,640.58 L222.46,638.54 L222.96,641.76 L223.46,639.19 L223.96,640.56 L224.46,639.59 L224.97,640.31 L225.47,638.17 L225.97,640.15 L226.47,638.82 L226.97,640.67 L227.47,641.48 L227.97,637.32 L228.47,638.74 L228.97,638.45 L229.47,640.80 L229.98,639.56 L230.48,642.23 L230.98,638.41 L231.48,639.01 L231.98,639.42 L232.48,640.30 L232.98,640.00 L233.48,640.40 L233.98,641.31 L234.48,641.66 L234.99,639.74 L235.49,638.46 L235.99,642.01 L236.49,639.20 L236.99,639.96 L237.49,640.67 L237.99,640.30 L238.49,637.91 L238.99,639.42 L239.49,638.70 L240.00,640.09 L240.50,638.85 L241.00,639.37 L241.50,640.96 L242.00,638.42 L242.50,637.72 L243.00,641.09 L243.50,637.53 L244.00,639.99 L244.50,639.86 L245.01,638.04 L245.51,639.17 L246.01,640.58 L246.51,639.89 L247.01,638.58 L247.51,640.72 L248.01,640.98 L248.51,641.34 L249.01,640.70 L249.51,639.05 L250.02,639.40 L250.52,639.41 L251.02,639.37 L251.52,640.35 L252.02,641.27 L252.52,640.34 L253.02,638.61 L253.52,639.05 L254.02,640.20 L254.52,641.07 L255.03,638.83 L255.53,638.84 L256.03,638.95 L256.53,637.71 L257.03,639.12 L257.53,641.38 L258.03,640.38 L258.53,638.71 L259.03,639.54 L259.53,639.10 L260.04,640.94 L260.54,639.09 L261.04,640.00 L261.54,638.20 L262.04,641.81 L262.54,638.61 L263.04,637.98 L263.54,641.17 L264.04,638.12" fill="none" stroke="#e8ad20" stroke-width="2.1" stroke-linejoin="round"/>
<path d="M41.60,475.97 L42.10,479.67 L42.60,483.21 L43.10,489.64 L43.60,495.79 L44.11,501.16 L44.61,505.78 L45.11,507.95 L45.61,511.00 L46.11,517.61 L46.61,521.65 L47.11,521.72 L47.61,527.63 L48.11,530.39 L48.61,534.17 L49.12,535.92 L49.62,539.69 L50.12,544.24 L50.62,546.75 L51.12,549.82 L51.62,548.38 L52.12,553.65 L52.62,557.92 L53.12,559.69 L53.62,561.68 L54.12,564.20 L54.63,565.02 L55.13,568.56 L55.63,569.12 L56.13,571.96 L56.63,574.65 L57.13,575.20 L57.63,577.50 L58.13,579.15 L58.63,579.47 L59.13,581.68 L59.64,581.48 L60.14,584.24 L60.64,585.68 L61.14,587.10 L61.64,589.73 L62.14,590.50 L62.64,590.69 L63.14,593.15 L63.64,594.78 L64.14,595.46 L64.65,596.16 L65.15,595.54 L65.65,598.85 L66.15,601.34 L66.65,597.50 L67.15,601.96 L67.65,602.24 L68.15,602.80 L68.65,602.34 L69.16,602.44 L69.66,603.80 L70.16,606.31 L70.66,605.85 L71.16,607.47 L71.66,608.28 L72.16,609.68 L72.66,609.63 L73.16,608.90 L73.66,611.34 L74.17,613.35 L74.67,612.91 L75.17,611.84 L75.67,614.44 L76.17,613.74 L76.67,613.58 L77.17,614.70 L77.67,615.95 L78.17,614.88 L78.67,618.44 L79.18,616.58 L79.68,616.39 L80.18,618.96 L80.68,618.89 L81.18,616.95 L81.68,617.96 L82.18,620.39 L82.68,619.07 L83.18,619.84 L83.68,622.75 L84.19,620.43 L84.69,622.74 L85.19,621.86 L85.69,623.65 L86.19,618.68 L86.69,621.40 L87.19,620.86 L87.69,622.35 L88.19,626.26 L88.69,625.02 L89.20,622.40 L89.70,624.79 L90.20,625.50 L90.70,623.33 L91.20,625.40 L91.70,625.89 L92.20,623.18 L92.70,625.52 L93.20,624.76 L93.70,625.18 L94.21,624.36 L94.71,626.72 L95.21,626.13 L95.71,625.70 L96.21,626.78 L96.71,626.46 L97.21,628.00 L97.71,625.56 L98.21,629.22 L98.71,627.42 L99.22,627.44 L99.72,630.24 L100.22,628.51 L100.72,627.38 L101.22,629.96 L101.72,629.30 L102.22,624.22 L102.72,630.03 L103.22,627.55 L103.72,629.69 L104.23,630.12 L104.73,629.59 L105.23,631.30 L105.73,628.89 L106.23,630.72 L106.73,630.13 L107.23,629.34 L107.73,631.76 L108.23,628.80 L108.73,630.30 L109.24,631.26 L109.74,630.88 L110.24,630.76 L110.74,630.98 L111.24,632.43 L111.74,629.49 L112.24,632.48 L112.74,632.05 L113.24,630.14 L113.74,629.61 L114.25,630.95 L114.75,631.45 L115.25,631.11 L115.75,630.87 L116.25,630.42 L116.75,631.61 L117.25,631.12 L117.75,633.29 L118.25,632.55 L118.75,633.57 L119.26,636.05 L119.76,632.08 L120.26,630.80 L120.76,634.98 L121.26,631.13 L121.76,632.37 L122.26,634.28 L122.76,632.73 L123.26,634.12 L123.76,631.86 L124.27,633.12 L124.77,631.56 L125.27,633.30 L125.77,635.52 L126.27,635.17 L126.77,633.26 L127.27,633.33 L127.77,635.00 L128.27,634.20 L128.77,633.90 L129.28,633.47 L129.78,632.94 L130.28,633.69 L130.78,633.91 L131.28,632.71 L131.78,633.25 L132.28,632.77 L132.78,634.56 L133.28,633.99 L133.78,636.78 L134.29,636.63 L134.79,634.69 L135.29,635.05 L135.79,634.72 L136.29,634.12 L136.79,634.18 L137.29,636.16 L137.79,634.68 L138.29,634.86 L138.79,634.96 L139.30,638.35 L139.80,636.93 L140.30,637.16 L140.80,637.09 L141.30,634.28 L141.80,636.93 L142.30,637.20 L142.80,636.64 L143.30,637.24 L143.80,635.09 L144.31,635.52 L144.81,636.08 L145.31,636.58 L145.81,635.70 L146.31,635.80 L146.81,635.63 L147.31,635.35 L147.81,636.64 L148.31,637.90 L148.81,636.33 L149.32,635.84 L149.82,635.35 L150.32,636.45 L150.82,636.85 L151.32,638.43 L151.82,636.79 L152.32,637.16 L152.82,637.41 L153.32,635.00 L153.82,634.50 L154.33,635.30 L154.83,637.42 L155.33,633.70 L155.83,634.71 L156.33,638.26 L156.83,636.64 L157.33,637.15 L157.83,636.91 L158.33,635.22 L158.83,637.79 L159.34,638.92 L159.84,634.45 L160.34,636.84 L160.84,638.10 L161.34,638.31 L161.84,634.40 L162.34,639.24 L162.84,638.19 L163.34,636.63 L163.84,637.52 L164.35,637.30 L164.85,635.70 L165.35,637.73 L165.85,635.97 L166.35,637.36 L166.85,637.91 L167.35,636.54 L167.85,635.79 L168.35,637.65 L168.85,639.28 L169.36,638.55 L169.86,638.69 L170.36,637.62 L170.86,637.82 L171.36,637.32 L171.86,637.50 L172.36,637.31 L172.86,635.45 L173.36,637.66 L173.86,638.38 L174.36,637.25 L174.87,635.90 L175.37,638.07 L175.87,638.75 L176.37,636.96 L176.87,637.45 L177.37,638.56 L177.87,637.52 L178.37,638.01 L178.87,636.94 L179.37,636.90 L179.88,636.68 L180.38,637.98 L180.88,639.77 L181.38,637.25 L181.88,637.86 L182.38,639.98 L182.88,637.99 L183.38,639.11 L183.88,638.88 L184.38,637.94 L184.89,638.05 L185.39,635.27 L185.89,636.84 L186.39,638.77 L186.89,636.45 L187.39,635.73 L187.89,637.48 L188.39,640.85 L188.89,639.95 L189.39,639.40 L189.90,640.14 L190.40,638.51 L190.90,638.77 L191.40,639.18 L191.90,638.58 L192.40,639.22 L192.90,638.77 L193.40,640.19 L193.90,638.41 L194.40,638.75 L194.91,640.22 L195.41,636.67 L195.91,638.17 L196.41,639.15 L196.91,638.65 L197.41,637.82 L197.91,639.02 L198.41,637.00 L198.91,638.91 L199.41,638.96 L199.92,640.35 L200.42,639.95 L200.92,639.20 L201.42,638.16 L201.92,637.77 L202.42,638.31 L202.92,638.65 L203.42,639.60 L203.92,637.39 L204.42,637.86 L204.93,639.65 L205.43,638.30 L205.93,638.22 L206.43,637.82 L206.93,636.70 L207.43,638.60 L207.93,638.55 L208.43,639.09 L208.93,639.25 L209.43,640.31 L209.94,638.43 L210.44,640.29 L210.94,636.68 L211.44,635.46 L211.94,639.39 L212.44,639.92 L212.94,640.48 L213.44,638.85 L213.94,640.83 L214.44,639.16 L214.95,637.61 L215.45,637.12 L215.95,639.70 L216.45,636.70 L216.95,640.61 L217.45,639.39 L217.95,637.65 L218.45,638.86 L218.95,639.99 L219.45,638.98 L219.96,638.94 L220.46,640.12 L220.96,639.02 L221.46,638.24 L221.96,638.16 L222.46,639.25 L222.96,641.24 L223.46,638.86 L223.96,640.92 L224.46,636.55 L224.97,638.35 L225.47,641.29 L225.97,639.83 L226.47,638.02 L226.97,640.06 L227.47,640.68 L227.97,638.94 L228.47,640.39 L228.97,640.53 L229.47,639.11 L229.98,640.76 L230.48,638.87 L230.98,640.18 L231.48,637.89 L231.98,638.53 L232.48,639.32 L232.98,639.33 L233.48,641.32 L233.98,640.71 L234.48,639.62 L234.99,640.27 L235.49,638.35 L235.99,637.04 L236.49,637.67 L236.99,640.12 L237.49,639.06 L237.99,637.92 L238.49,637.59 L238.99,642.40 L239.49,638.73 L240.00,641.23 L240.50,641.12 L241.00,638.65 L241.50,641.08 L242.00,640.96 L242.50,640.91 L243.00,639.71 L243.50,639.39 L244.00,638.73 L244.50,638.81 L245.01,639.03 L245.51,639.68 L246.01,637.27 L246.51,638.22 L247.01,638.57 L247.51,639.13 L248.01,638.81 L248.51,640.12 L249.01,640.48 L249.51,641.60 L250.02,639.51 L250.52,639.61 L251.02,639.34 L251.52,639.48 L252.02,641.66 L252.52,638.90 L253.02,638.00 L253.52,641.54 L254.02,639.45 L254.52,639.07 L255.03,638.49 L255.53,641.10 L256.03,641.13 L256.53,640.10 L257.03,639.07 L257.53,640.96 L258.03,638.33 L258.53,639.41 L259.03,640.21 L259.53,639.39 L260.04,638.44 L260.54,641.13 L261.04,641.43 L261.54,640.07 L262.04,640.07 L262.54,639.75 L263.04,637.62 L263.54,638.40 L264.04,640.85" fill="none" stroke="#f5cd0a" stroke-width="2.1" stroke-linejoin="round"/>
<path d="M41.4,477.1 V644.6 H265" fill="none" stroke="#000" stroke-width="1.3"/>
<line x1="37.3" y1="478.5" x2="41.6" y2="478.5" stroke="#000" stroke-width="1.1"/>
<text x="33.2" y="482.0" font-size="10.2" text-anchor="end">1.0</text>
<line x1="37.3" y1="510.5" x2="41.6" y2="510.5" stroke="#000" stroke-width="1.1"/>
<text x="33.2" y="514.5" font-size="10.2" text-anchor="end">0.8</text>
<line x1="37.3" y1="543.5" x2="41.6" y2="543.5" stroke="#000" stroke-width="1.1"/>
<text x="33.2" y="547.0" font-size="10.2" text-anchor="end">0.6</text>
<line x1="37.3" y1="575.5" x2="41.6" y2="575.5" stroke="#000" stroke-width="1.1"/>
<text x="33.2" y="579.5" font-size="10.2" text-anchor="end">0.4</text>
<line x1="37.3" y1="608.5" x2="41.6" y2="608.5" stroke="#000" stroke-width="1.1"/>
<text x="33.2" y="612.0" font-size="10.2" text-anchor="end">0.2</text>
<line x1="37.3" y1="640.5" x2="41.6" y2="640.5" stroke="#000" stroke-width="1.1"/>
<text x="33.2" y="644.5" font-size="10.2" text-anchor="end">0</text>
<line x1="41.5" y1="644" x2="41.5" y2="648" stroke="#000" stroke-width="1.1"/>
<text x="41.6" y="662.2" font-size="10.2" text-anchor="middle">0</text>
<line x1="125.5" y1="644" x2="125.5" y2="648" stroke="#000" stroke-width="1.1"/>
<text x="125.1" y="662.2" font-size="10.2" text-anchor="middle">0.1</text>
<line x1="208.5" y1="644" x2="208.5" y2="648" stroke="#000" stroke-width="1.1"/>
<text x="208.6" y="662.2" font-size="10.2" text-anchor="middle">0.2</text>
<text x="153" y="679" font-size="10.2" text-anchor="middle">Time (s)</text>
<text transform="translate(7.6,561.4) rotate(-90)" font-size="10.2" text-anchor="middle">Amplitude (a.u.)</text>
<text x="55.5" y="495.7" font-size="10.2">Fat fraction</text>
<line x1="59.4" y1="506.1" x2="80.9" y2="506.1" stroke="#9a1515" stroke-width="1.5"/>
<text x="85.6" y="509.7" font-size="10.2">10%</text>
<line x1="59.4" y1="519.5" x2="80.9" y2="519.5" stroke="#b4300f" stroke-width="1.5"/>
<text x="85.6" y="523.1" font-size="10.2">25%</text>
<line x1="59.4" y1="533.0" x2="80.9" y2="533.0" stroke="#c45c1a" stroke-width="1.5"/>
<text x="85.6" y="536.6" font-size="10.2">40%</text>
<line x1="59.4" y1="546.4" x2="80.9" y2="546.4" stroke="#d6841c" stroke-width="1.5"/>
<text x="85.6" y="550.0" font-size="10.2">50%</text>
<line x1="59.4" y1="559.8" x2="80.9" y2="559.8" stroke="#e8ad20" stroke-width="1.5"/>
<text x="85.6" y="563.4" font-size="10.2">60%</text>
<line x1="59.4" y1="573.2" x2="80.9" y2="573.2" stroke="#f5cd0a" stroke-width="1.5"/>
<text x="85.6" y="576.9" font-size="10.2">75%</text>
<defs><clipPath id="inclip"><rect x="153.8" y="485.3" width="103.59999999999997" height="79.49999999999994"/></clipPath></defs>
<rect x="153.8" y="485.3" width="103.59999999999997" height="79.49999999999994" fill="#dcdcdc"/>
<g clip-path="url(#inclip)">
<path d="M160.73,395.37 L161.28,404.39 L161.83,409.61 L162.39,417.46 L162.94,423.47 L163.50,427.50 L164.05,433.55 L164.60,438.07 L165.16,443.92 L165.71,446.42 L166.27,448.43 L166.82,454.76 L167.37,458.61 L167.93,463.65 L168.48,468.08 L169.03,471.59 L169.59,475.28 L170.14,475.30 L170.70,479.98 L171.25,483.21 L171.81,486.04 L172.36,485.74 L172.91,485.79 L173.47,492.20 L174.02,493.96 L174.57,498.27 L175.13,494.50 L175.68,502.99 L176.24,501.48 L176.79,504.86 L177.34,506.87 L177.90,506.85 L178.45,512.27 L179.01,509.63 L179.56,513.62 L180.12,513.46 L180.67,514.40 L181.22,515.38 L181.78,515.60 L182.33,522.41 L182.89,519.71 L183.44,521.05 L183.99,522.15 L184.55,522.16 L185.10,525.22 L185.66,524.83 L186.21,527.88 L186.76,526.79 L187.32,529.20 L187.87,530.17 L188.43,530.01 L188.98,530.30 L189.53,529.39 L190.09,532.45 L190.64,531.51 L191.20,534.33 L191.75,529.52 L192.30,531.76 L192.86,536.25 L193.41,535.79 L193.97,532.65 L194.52,537.91 L195.07,534.39 L195.63,535.48 L196.18,538.07 L196.74,538.54 L197.29,537.65 L197.84,537.40 L198.40,542.37 L198.95,542.48 L199.51,542.04 L200.06,543.38 L200.61,541.82 L201.17,542.62 L201.72,543.10 L202.28,541.44 L202.83,543.61 L203.38,544.22 L203.94,544.74 L204.49,544.93 L205.05,544.66 L205.60,545.54 L206.15,545.08 L206.71,545.46 L207.26,545.35 L207.81,549.18 L208.37,546.79 L208.92,547.70 L209.48,548.99 L210.03,546.69 L210.58,550.60 L211.14,548.24 L211.69,549.53 L212.25,551.73 L212.80,549.58 L213.35,548.49 L213.91,548.02 L214.46,550.41 L215.02,547.17 L215.57,552.72 L216.12,550.10 L216.68,553.41 L217.23,551.49 L217.79,553.01 L218.34,551.35 L218.89,550.37 L219.45,551.79 L220.00,551.38 L220.56,551.75 L221.11,552.06 L221.66,552.00 L222.22,552.99 L222.77,553.30 L223.33,553.95 L223.88,554.27 L224.43,556.30 L224.99,552.92 L225.54,552.36 L226.10,557.42 L226.65,556.76 L227.20,555.18 L227.76,555.20 L228.31,553.76 L228.87,554.51 L229.42,552.98 L229.97,552.76 L230.53,554.80 L231.08,556.05 L231.64,554.99 L232.19,559.26 L232.74,555.38 L233.30,553.87 L233.85,555.77 L234.41,554.29 L234.96,556.07 L235.51,557.41 L236.07,558.77 L236.62,556.53 L237.18,553.65 L237.73,559.87 L238.28,555.35 L238.84,557.84 L239.39,559.09 L239.95,554.00 L240.50,555.15 L241.05,559.58 L241.61,560.57 L242.16,560.09 L242.72,556.73 L243.27,556.74 L243.82,557.54 L244.38,559.06 L244.93,559.30 L245.49,559.50 L246.04,558.92 L246.59,558.89 L247.15,555.94 L247.70,558.63 L248.26,556.72 L248.81,558.24 L249.36,561.72 L249.92,558.82 L250.47,561.63 L251.03,561.18 L251.58,558.85 L252.13,558.14 L252.69,562.28 L253.24,557.58 L253.80,562.02 L254.35,559.70 L254.90,557.08 L255.46,562.10 L256.01,559.41 L256.57,559.08 L257.12,559.83 L257.67,559.52 L258.23,560.12 L258.78,558.41" fill="none" stroke="#9a1515" stroke-width="2.2" stroke-linejoin="round"/>
<path d="M160.73,364.46 L161.28,371.49 L161.83,375.42 L162.39,382.25 L162.94,385.83 L163.50,391.91 L164.05,396.64 L164.60,400.59 L165.16,400.64 L165.71,407.27 L166.27,410.11 L166.82,413.36 L167.37,417.55 L167.93,424.34 L168.48,425.62 L169.03,430.37 L169.59,433.25 L170.14,435.21 L170.70,439.24 L171.25,441.17 L171.81,442.84 L172.36,447.44 L172.91,451.14 L173.47,453.38 L174.02,457.83 L174.57,455.50 L175.13,461.27 L175.68,463.96 L176.24,463.52 L176.79,465.23 L177.34,465.46 L177.90,469.29 L178.45,472.92 L179.01,474.66 L179.56,478.17 L180.12,477.55 L180.67,482.15 L181.22,481.27 L181.78,481.62 L182.33,485.18 L182.89,488.30 L183.44,490.31 L183.99,488.69 L184.55,492.62 L185.10,495.20 L185.66,494.64 L186.21,496.93 L186.76,499.05 L187.32,499.09 L187.87,499.74 L188.43,502.09 L188.98,502.92 L189.53,503.52 L190.09,505.78 L190.64,507.67 L191.20,507.48 L191.75,507.82 L192.30,506.81 L192.86,507.93 L193.41,509.32 L193.97,510.41 L194.52,510.13 L195.07,512.54 L195.63,512.70 L196.18,518.51 L196.74,513.96 L197.29,517.22 L197.84,515.56 L198.40,520.46 L198.95,520.54 L199.51,517.81 L200.06,521.53 L200.61,520.11 L201.17,521.89 L201.72,521.51 L202.28,520.97 L202.83,522.28 L203.38,525.27 L203.94,526.62 L204.49,526.61 L205.05,527.13 L205.60,528.43 L206.15,528.62 L206.71,529.65 L207.26,531.93 L207.81,531.73 L208.37,527.42 L208.92,531.59 L209.48,530.56 L210.03,529.39 L210.58,534.04 L211.14,531.94 L211.69,531.47 L212.25,538.15 L212.80,533.79 L213.35,532.27 L213.91,532.86 L214.46,535.48 L215.02,536.60 L215.57,535.76 L216.12,534.34 L216.68,535.78 L217.23,536.76 L217.79,534.71 L218.34,537.43 L218.89,540.10 L219.45,536.68 L220.00,535.97 L220.56,541.38 L221.11,539.48 L221.66,541.01 L222.22,538.85 L222.77,543.49 L223.33,541.30 L223.88,543.04 L224.43,540.34 L224.99,541.52 L225.54,542.28 L226.10,539.48 L226.65,538.95 L227.20,543.38 L227.76,542.15 L228.31,539.90 L228.87,545.65 L229.42,540.54 L229.97,543.03 L230.53,545.47 L231.08,544.24 L231.64,547.29 L232.19,546.50 L232.74,547.13 L233.30,545.80 L233.85,543.89 L234.41,545.39 L234.96,544.90 L235.51,545.53 L236.07,541.92 L236.62,548.30 L237.18,545.21 L237.73,547.26 L238.28,550.71 L238.84,546.92 L239.39,548.65 L239.95,547.20 L240.50,549.90 L241.05,548.09 L241.61,546.68 L242.16,549.10 L242.72,547.29 L243.27,548.24 L243.82,548.97 L244.38,552.07 L244.93,550.51 L245.49,549.49 L246.04,550.19 L246.59,550.34 L247.15,549.33 L247.70,549.84 L248.26,551.31 L248.81,547.37 L249.36,550.05 L249.92,551.25 L250.47,549.27 L251.03,552.53 L251.58,553.13 L252.13,549.85 L252.69,550.94 L253.24,550.27 L253.80,553.23 L254.35,555.31 L254.90,551.32 L255.46,549.63 L256.01,552.31 L256.57,551.95 L257.12,547.98 L257.67,553.30 L258.23,552.02 L258.78,553.36" fill="none" stroke="#b4300f" stroke-width="2.2" stroke-linejoin="round"/>
<path d="M160.73,358.22 L161.28,364.18 L161.83,368.60 L162.39,371.09 L162.94,375.25 L163.50,381.42 L164.05,385.57 L164.60,390.78 L165.16,395.84 L165.71,402.06 L166.27,406.50 L166.82,403.37 L167.37,409.18 L167.93,414.42 L168.48,415.86 L169.03,417.36 L169.59,424.90 L170.14,430.31 L170.70,427.73 L171.25,431.96 L171.81,437.13 L172.36,437.15 L172.91,441.70 L173.47,446.10 L174.02,444.16 L174.57,446.05 L175.13,452.70 L175.68,455.92 L176.24,457.93 L176.79,459.44 L177.34,457.28 L177.90,463.19 L178.45,465.60 L179.01,466.27 L179.56,468.36 L180.12,469.37 L180.67,472.86 L181.22,474.04 L181.78,476.69 L182.33,477.46 L182.89,478.30 L183.44,482.19 L183.99,480.70 L184.55,486.91 L185.10,482.73 L185.66,490.37 L186.21,490.90 L186.76,489.36 L187.32,494.21 L187.87,494.89 L188.43,495.67 L188.98,493.49 L189.53,496.03 L190.09,500.08 L190.64,497.31 L191.20,500.52 L191.75,501.15 L192.30,501.01 L192.86,504.79 L193.41,502.64 L193.97,507.54 L194.52,504.04 L195.07,505.74 L195.63,505.17 L196.18,508.58 L196.74,511.72 L197.29,511.85 L197.84,510.14 L198.40,509.84 L198.95,509.80 L199.51,513.79 L200.06,514.31 L200.61,518.33 L201.17,517.66 L201.72,517.62 L202.28,517.48 L202.83,516.59 L203.38,519.65 L203.94,520.87 L204.49,522.18 L205.05,522.66 L205.60,521.16 L206.15,524.52 L206.71,524.00 L207.26,524.43 L207.81,523.07 L208.37,525.21 L208.92,528.75 L209.48,523.64 L210.03,528.25 L210.58,528.39 L211.14,527.72 L211.69,529.97 L212.25,529.52 L212.80,527.08 L213.35,530.29 L213.91,530.70 L214.46,528.77 L215.02,527.78 L215.57,532.54 L216.12,533.51 L216.68,535.05 L217.23,532.30 L217.79,537.08 L218.34,532.55 L218.89,533.39 L219.45,533.85 L220.00,534.18 L220.56,536.97 L221.11,534.46 L221.66,538.64 L222.22,535.68 L222.77,537.90 L223.33,538.02 L223.88,540.17 L224.43,535.65 L224.99,540.92 L225.54,537.78 L226.10,534.98 L226.65,539.56 L227.20,542.90 L227.76,537.42 L228.31,537.93 L228.87,538.13 L229.42,541.67 L229.97,539.74 L230.53,545.07 L231.08,541.68 L231.64,544.45 L232.19,542.48 L232.74,542.22 L233.30,538.91 L233.85,541.93 L234.41,542.63 L234.96,542.58 L235.51,542.81 L236.07,542.64 L236.62,542.35 L237.18,543.11 L237.73,544.89 L238.28,542.81 L238.84,547.55 L239.39,545.01 L239.95,545.33 L240.50,547.51 L241.05,543.48 L241.61,545.95 L242.16,548.27 L242.72,544.65 L243.27,547.80 L243.82,547.49 L244.38,548.57 L244.93,544.37 L245.49,547.24 L246.04,543.58 L246.59,546.33 L247.15,549.05 L247.70,545.76 L248.26,550.86 L248.81,548.39 L249.36,549.76 L249.92,546.56 L250.47,550.27 L251.03,547.82 L251.58,551.31 L252.13,548.07 L252.69,549.64 L253.24,548.39 L253.80,549.48 L254.35,549.80 L254.90,548.78 L255.46,552.99 L256.01,550.78 L256.57,548.08 L257.12,550.11 L257.67,549.97 L258.23,549.68 L258.78,552.48" fill="none" stroke="#c45c1a" stroke-width="2.2" stroke-linejoin="round"/>
<path d="M160.73,351.33 L161.28,361.09 L161.83,362.10 L162.39,365.96 L162.94,372.81 L163.50,376.05 L164.05,378.10 L164.60,383.05 L165.16,389.98 L165.71,390.08 L166.27,394.63 L166.82,400.76 L167.37,403.57 L167.93,407.60 L168.48,410.02 L169.03,414.57 L169.59,415.99 L170.14,421.80 L170.70,420.69 L171.25,426.90 L171.81,429.84 L172.36,431.66 L172.91,431.63 L173.47,436.10 L174.02,440.79 L174.57,442.75 L175.13,445.06 L175.68,444.77 L176.24,451.57 L176.79,451.66 L177.34,457.11 L177.90,457.19 L178.45,454.89 L179.01,459.68 L179.56,464.99 L180.12,467.67 L180.67,465.93 L181.22,467.61 L181.78,470.16 L182.33,470.51 L182.89,474.63 L183.44,475.50 L183.99,475.31 L184.55,478.11 L185.10,475.99 L185.66,482.80 L186.21,483.55 L186.76,485.54 L187.32,483.57 L187.87,484.77 L188.43,487.53 L188.98,488.86 L189.53,492.03 L190.09,492.85 L190.64,494.21 L191.20,494.64 L191.75,497.80 L192.30,494.81 L192.86,496.30 L193.41,501.85 L193.97,502.94 L194.52,505.53 L195.07,501.67 L195.63,502.95 L196.18,504.97 L196.74,502.34 L197.29,505.45 L197.84,509.36 L198.40,509.42 L198.95,508.01 L199.51,507.97 L200.06,511.92 L200.61,511.59 L201.17,512.18 L201.72,512.82 L202.28,513.78 L202.83,515.93 L203.38,514.71 L203.94,516.47 L204.49,517.31 L205.05,518.33 L205.60,517.51 L206.15,516.44 L206.71,521.20 L207.26,525.21 L207.81,523.46 L208.37,522.50 L208.92,519.08 L209.48,522.75 L210.03,518.91 L210.58,527.47 L211.14,523.93 L211.69,525.69 L212.25,526.18 L212.80,525.69 L213.35,527.86 L213.91,529.16 L214.46,526.32 L215.02,527.04 L215.57,529.03 L216.12,529.58 L216.68,528.61 L217.23,527.43 L217.79,530.93 L218.34,529.37 L218.89,531.03 L219.45,531.25 L220.00,532.24 L220.56,534.17 L221.11,533.39 L221.66,532.82 L222.22,530.12 L222.77,533.44 L223.33,533.54 L223.88,533.58 L224.43,532.72 L224.99,535.49 L225.54,534.24 L226.10,533.96 L226.65,537.99 L227.20,536.15 L227.76,537.81 L228.31,536.70 L228.87,537.14 L229.42,539.30 L229.97,537.67 L230.53,540.29 L231.08,538.53 L231.64,539.55 L232.19,540.79 L232.74,539.54 L233.30,539.08 L233.85,538.43 L234.41,543.53 L234.96,540.86 L235.51,540.13 L236.07,542.64 L236.62,540.49 L237.18,542.08 L237.73,542.38 L238.28,541.62 L238.84,541.07 L239.39,543.48 L239.95,543.04 L240.50,545.06 L241.05,542.16 L241.61,542.36 L242.16,543.49 L242.72,541.83 L243.27,541.24 L243.82,546.15 L244.38,543.71 L244.93,545.54 L245.49,545.01 L246.04,543.82 L246.59,544.11 L247.15,543.99 L247.70,545.91 L248.26,545.25 L248.81,544.66 L249.36,544.27 L249.92,542.76 L250.47,544.95 L251.03,548.77 L251.58,546.27 L252.13,545.60 L252.69,547.20 L253.24,546.78 L253.80,549.23 L254.35,547.91 L254.90,547.94 L255.46,546.30 L256.01,550.36 L256.57,547.18 L257.12,550.95 L257.67,546.93 L258.23,548.06 L258.78,549.97" fill="none" stroke="#d6841c" stroke-width="2.2" stroke-linejoin="round"/>
<path d="M160.73,347.31 L161.28,352.12 L161.83,356.81 L162.39,360.35 L162.94,367.26 L163.50,373.04 L164.05,378.24 L164.60,380.01 L165.16,383.30 L165.71,388.95 L166.27,390.95 L166.82,393.60 L167.37,397.47 L167.93,401.28 L168.48,406.58 L169.03,407.11 L169.59,414.37 L170.14,413.50 L170.70,416.00 L171.25,424.36 L171.81,420.92 L172.36,427.08 L172.91,426.52 L173.47,431.23 L174.02,433.19 L174.57,437.17 L175.13,439.36 L175.68,444.15 L176.24,443.11 L176.79,445.82 L177.34,449.77 L177.90,449.95 L178.45,452.91 L179.01,455.08 L179.56,458.40 L180.12,459.82 L180.67,458.90 L181.22,463.44 L181.78,464.38 L182.33,469.51 L182.89,469.26 L183.44,470.59 L183.99,469.42 L184.55,472.60 L185.10,475.97 L185.66,476.84 L186.21,480.28 L186.76,480.00 L187.32,479.30 L187.87,480.74 L188.43,483.53 L188.98,484.93 L189.53,485.20 L190.09,488.32 L190.64,487.17 L191.20,488.17 L191.75,490.56 L192.30,492.54 L192.86,492.92 L193.41,492.80 L193.97,496.75 L194.52,497.92 L195.07,495.24 L195.63,498.85 L196.18,498.91 L196.74,500.30 L197.29,500.27 L197.84,503.05 L198.40,504.13 L198.95,504.79 L199.51,504.35 L200.06,507.64 L200.61,506.97 L201.17,508.04 L201.72,510.14 L202.28,512.45 L202.83,510.14 L203.38,512.10 L203.94,510.68 L204.49,513.93 L205.05,515.51 L205.60,513.66 L206.15,514.91 L206.71,516.93 L207.26,514.14 L207.81,517.88 L208.37,518.79 L208.92,521.15 L209.48,521.38 L210.03,520.56 L210.58,523.68 L211.14,520.66 L211.69,524.00 L212.25,519.72 L212.80,523.38 L213.35,526.73 L213.91,522.29 L214.46,527.12 L215.02,525.63 L215.57,526.29 L216.12,526.15 L216.68,525.05 L217.23,527.85 L217.79,526.84 L218.34,528.09 L218.89,527.96 L219.45,531.62 L220.00,530.42 L220.56,528.93 L221.11,529.28 L221.66,536.06 L222.22,533.12 L222.77,532.22 L223.33,530.76 L223.88,534.67 L224.43,532.96 L224.99,531.75 L225.54,530.11 L226.10,534.36 L226.65,533.56 L227.20,536.30 L227.76,533.42 L228.31,534.80 L228.87,538.46 L229.42,535.10 L229.97,532.80 L230.53,536.35 L231.08,534.57 L231.64,536.86 L232.19,539.93 L232.74,536.77 L233.30,538.96 L233.85,535.76 L234.41,536.36 L234.96,537.98 L235.51,537.61 L236.07,539.79 L236.62,537.66 L237.18,539.63 L237.73,538.28 L238.28,540.06 L238.84,539.92 L239.39,542.14 L239.95,538.78 L240.50,542.99 L241.05,543.58 L241.61,541.98 L242.16,541.09 L242.72,540.77 L243.27,545.34 L243.82,542.79 L244.38,542.47 L244.93,538.34 L245.49,541.22 L246.04,543.81 L246.59,542.38 L247.15,540.05 L247.70,546.95 L248.26,544.94 L248.81,544.70 L249.36,542.26 L249.92,548.06 L250.47,542.29 L251.03,543.20 L251.58,544.76 L252.13,544.33 L252.69,545.89 L253.24,545.23 L253.80,543.08 L254.35,546.01 L254.90,546.46 L255.46,543.56 L256.01,547.82 L256.57,543.60 L257.12,546.72 L257.67,544.66 L258.23,548.72 L258.78,548.53" fill="none" stroke="#e8ad20" stroke-width="2.2" stroke-linejoin="round"/>
<path d="M160.73,343.83 L161.28,347.70 L161.83,355.10 L162.39,358.08 L162.94,366.17 L163.50,365.23 L164.05,369.74 L164.60,373.52 L165.16,378.96 L165.71,380.93 L166.27,384.24 L166.82,389.39 L167.37,391.59 L167.93,396.04 L168.48,397.01 L169.03,403.26 L169.59,405.39 L170.14,405.99 L170.70,412.60 L171.25,414.50 L171.81,416.61 L172.36,421.87 L172.91,424.57 L173.47,424.52 L174.02,431.51 L174.57,429.53 L175.13,431.01 L175.68,433.77 L176.24,436.04 L176.79,439.52 L177.34,441.09 L177.90,444.16 L178.45,446.91 L179.01,451.69 L179.56,452.88 L180.12,451.02 L180.67,455.59 L181.22,455.02 L181.78,456.92 L182.33,463.95 L182.89,461.92 L183.44,465.89 L183.99,465.98 L184.55,466.56 L185.10,468.01 L185.66,471.03 L186.21,474.78 L186.76,473.91 L187.32,474.75 L187.87,478.45 L188.43,477.47 L188.98,479.50 L189.53,482.41 L190.09,483.76 L190.64,484.36 L191.20,483.63 L191.75,486.10 L192.30,490.26 L192.86,489.34 L193.41,490.07 L193.97,493.15 L194.52,491.74 L195.07,492.43 L195.63,494.09 L196.18,495.61 L196.74,495.44 L197.29,499.59 L197.84,500.15 L198.40,500.73 L198.95,499.90 L199.51,502.28 L200.06,505.56 L200.61,503.64 L201.17,505.32 L201.72,506.03 L202.28,506.31 L202.83,508.62 L203.38,509.18 L203.94,507.03 L204.49,508.73 L205.05,509.89 L205.60,513.44 L206.15,511.39 L206.71,513.17 L207.26,513.25 L207.81,511.96 L208.37,515.00 L208.92,514.30 L209.48,514.33 L210.03,518.11 L210.58,516.76 L211.14,517.34 L211.69,517.80 L212.25,518.91 L212.80,516.26 L213.35,522.38 L213.91,521.30 L214.46,522.46 L215.02,518.45 L215.57,520.17 L216.12,519.39 L216.68,522.85 L217.23,526.65 L217.79,524.77 L218.34,523.37 L218.89,523.72 L219.45,526.11 L220.00,526.14 L220.56,523.91 L221.11,526.30 L221.66,527.62 L222.22,530.16 L222.77,529.81 L223.33,529.93 L223.88,529.95 L224.43,526.02 L224.99,530.02 L225.54,529.65 L226.10,529.97 L226.65,534.57 L227.20,533.96 L227.76,530.24 L228.31,530.50 L228.87,532.69 L229.42,535.23 L229.97,533.69 L230.53,534.12 L231.08,530.80 L231.64,534.05 L232.19,534.11 L232.74,536.81 L233.30,537.48 L233.85,534.91 L234.41,536.63 L234.96,537.55 L235.51,536.17 L236.07,536.20 L236.62,537.06 L237.18,540.19 L237.73,537.21 L238.28,537.16 L238.84,539.79 L239.39,537.96 L239.95,536.23 L240.50,538.64 L241.05,539.22 L241.61,537.57 L242.16,537.67 L242.72,538.99 L243.27,540.20 L243.82,539.10 L244.38,541.24 L244.93,537.70 L245.49,541.10 L246.04,541.15 L246.59,538.93 L247.15,541.11 L247.70,542.11 L248.26,542.32 L248.81,543.28 L249.36,541.59 L249.92,541.51 L250.47,541.20 L251.03,540.99 L251.58,543.08 L252.13,542.96 L252.69,543.77 L253.24,544.50 L253.80,543.13 L254.35,545.10 L254.90,546.63 L255.46,544.86 L256.01,547.73 L256.57,543.80 L257.12,543.94 L257.67,545.08 L258.23,543.18 L258.78,544.14" fill="none" stroke="#f5cd0a" stroke-width="2.2" stroke-linejoin="round"/>
</g>
<rect x="153.8" y="485.3" width="103.59999999999997" height="79.49999999999994" fill="none" stroke="#000" stroke-width="1.1"/>
<line x1="150.3" y1="564.5" x2="153.8" y2="564.5" stroke="#000" stroke-width="1.1"/>
<text x="147.4" y="567.6" font-size="7.7" text-anchor="end">0</text>
<line x1="150.3" y1="536.5" x2="153.8" y2="536.5" stroke="#000" stroke-width="1.1"/>
<text x="147.4" y="539.3" font-size="7.7" text-anchor="end">0.1</text>
<line x1="150.3" y1="508.5" x2="153.8" y2="508.5" stroke="#000" stroke-width="1.1"/>
<text x="147.4" y="511.0" font-size="7.7" text-anchor="end">0.2</text>
<line x1="153.5" y1="564.8" x2="153.5" y2="568.3" stroke="#000" stroke-width="1.1"/>
<text x="153.8" y="578" font-size="7.7" text-anchor="middle">0</text>
<line x1="181.5" y1="564.8" x2="181.5" y2="568.3" stroke="#000" stroke-width="1.1"/>
<text x="181.5" y="578" font-size="7.7" text-anchor="middle">0.02</text>
<line x1="209.5" y1="564.8" x2="209.5" y2="568.3" stroke="#000" stroke-width="1.1"/>
<text x="209.2" y="578" font-size="7.7" text-anchor="middle">0.04</text>
<line x1="236.5" y1="564.8" x2="236.5" y2="568.3" stroke="#000" stroke-width="1.1"/>
<text x="236.9" y="578" font-size="7.7" text-anchor="middle">0.06</text>
<text x="205.6" y="589.9" font-size="7.7" text-anchor="middle">Time (s)</text>
<text transform="translate(132.4,525.5) rotate(-90)" font-size="7.85" text-anchor="middle">Amplitude (a.u.)</text>
<text x="305.2" y="477.4" font-size="12" font-weight="bold">e</text>
<rect x="351.8" y="627.9" width="32" height="20.3" fill="#8b0000"/>
<rect x="365.5" y="626.0" width="4.6" height="3.5" fill="#000"/>
<line x1="367.5" y1="647.7" x2="367.5" y2="652" stroke="#000" stroke-width="1.1"/>
<text x="367.8" y="665.9" font-size="10.2" text-anchor="middle">10</text>
<rect x="391.7" y="581.3" width="32" height="66.9" fill="#a83200"/>
<rect x="405.4" y="579.4" width="4.6" height="3.5" fill="#000"/>
<line x1="407.5" y1="647.7" x2="407.5" y2="652" stroke="#000" stroke-width="1.1"/>
<text x="407.7" y="665.9" font-size="10.2" text-anchor="middle">25</text>
<rect x="431.6" y="558.6" width="32" height="89.6" fill="#bf5600"/>
<rect x="445.3" y="556.7" width="4.6" height="3.5" fill="#000"/>
<line x1="447.5" y1="647.7" x2="447.5" y2="652" stroke="#000" stroke-width="1.1"/>
<text x="447.6" y="665.9" font-size="10.2" text-anchor="middle">40</text>
<rect x="471.6" y="545.7" width="32" height="102.5" fill="#d27c00"/>
<rect x="485.3" y="543.8" width="4.6" height="3.5" fill="#000"/>
<line x1="487.5" y1="647.7" x2="487.5" y2="652" stroke="#000" stroke-width="1.1"/>
<text x="487.6" y="665.9" font-size="10.2" text-anchor="middle">50</text>
<rect x="511.5" y="530.0" width="32" height="118.2" fill="#e8a600"/>
<rect x="525.2" y="528.1" width="4.6" height="3.5" fill="#000"/>
<line x1="527.5" y1="647.7" x2="527.5" y2="652" stroke="#000" stroke-width="1.1"/>
<text x="527.5" y="665.9" font-size="10.2" text-anchor="middle">60</text>
<rect x="551.4" y="502.1" width="32" height="146.1" fill="#fdd000"/>
<rect x="565.1" y="500.2" width="4.6" height="3.5" fill="#000"/>
<line x1="567.5" y1="647.7" x2="567.5" y2="652" stroke="#000" stroke-width="1.1"/>
<text x="567.4" y="665.9" font-size="10.2" text-anchor="middle">75</text>
<path d="M351.6,493.3 V647.7 H584" fill="none" stroke="#000" stroke-width="1.1"/>
<line x1="347.4" y1="648.5" x2="351.6" y2="648.5" stroke="#000" stroke-width="1.1"/>
<text x="342.7" y="651.8" font-size="10.2" text-anchor="end">0</text>
<line x1="347.4" y1="613.5" x2="351.6" y2="613.5" stroke="#000" stroke-width="1.1"/>
<text x="342.7" y="616.9" font-size="10.2" text-anchor="end">0.2</text>
<line x1="347.4" y1="578.5" x2="351.6" y2="578.5" stroke="#000" stroke-width="1.1"/>
<text x="342.7" y="582.1" font-size="10.2" text-anchor="end">0.4</text>
<line x1="347.4" y1="543.5" x2="351.6" y2="543.5" stroke="#000" stroke-width="1.1"/>
<text x="342.7" y="547.2" font-size="10.2" text-anchor="end">0.6</text>
<line x1="347.4" y1="508.5" x2="351.6" y2="508.5" stroke="#000" stroke-width="1.1"/>
<text x="342.7" y="512.4" font-size="10.2" text-anchor="end">0.8</text>
<text x="467.4" y="681.6" font-size="10.2" text-anchor="middle">Phantom fat fraction (%)</text>
<text transform="translate(317.6,570) rotate(-90)" font-size="10.2" text-anchor="middle">Fat amplitude, A<tspan font-size="7" dy="2">3</tspan><tspan dy="-2"> (a.u.)</tspan></text>
</svg></body></html>
